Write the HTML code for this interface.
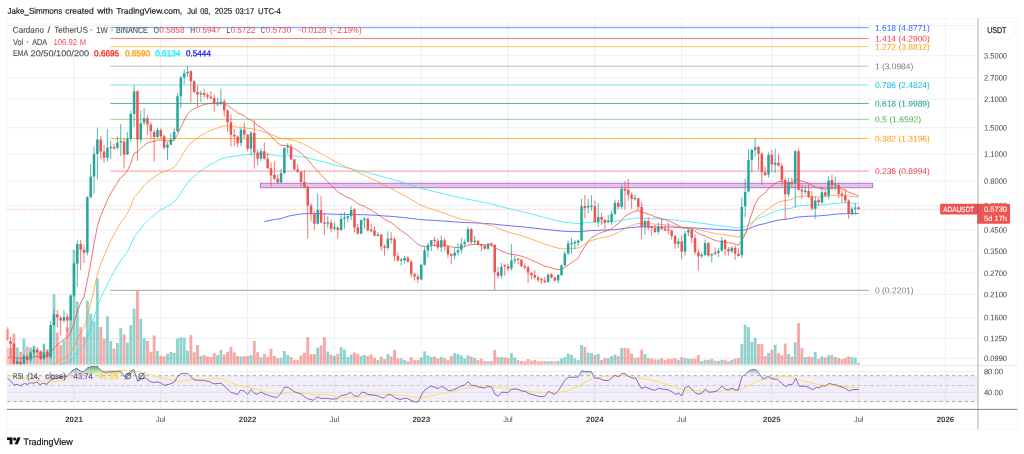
<!DOCTYPE html><html><head><meta charset="utf-8"><title>ADAUSDT</title><style>html,body{margin:0;padding:0;background:#fff}svg{display:block;will-change:transform}</style></head><body><svg width="1024" height="454" viewBox="0 0 1024 454" font-family="Liberation Sans, sans-serif" text-rendering="geometricPrecision">
<defs><clipPath id="cm"><rect x="6.4" y="18.3" width="971.6" height="346.4"/></clipPath>
<clipPath id="cr"><rect x="7" y="365.5" width="971" height="43.9"/></clipPath>
<linearGradient id="gg" x1="0" y1="364" x2="0" y2="376" gradientUnits="userSpaceOnUse"><stop offset="0" stop-color="#43a047" stop-opacity="1"/><stop offset="1" stop-color="#4caf50" stop-opacity="0"/></linearGradient>
</defs>
<rect width="1024" height="454" fill="#fff"/>
<g stroke="#e0ecf3" stroke-width="0.72" fill="none">
<path d="M74 18.3V409.4"/>
<path d="M160.81 18.3V409.4"/>
<path d="M247.63 18.3V409.4"/>
<path d="M334.44 18.3V409.4"/>
<path d="M421.26 18.3V409.4"/>
<path d="M508.07 18.3V409.4"/>
<path d="M594.88 18.3V409.4"/>
<path d="M681.7 18.3V409.4"/>
<path d="M771.85 18.3V409.4"/>
<path d="M858.66 18.3V409.4"/>
<path d="M945.48 18.3V409.4"/>
<path d="M7 25.55H978"/>
<path d="M7 55.81H978"/>
<path d="M7 77.82H978"/>
<path d="M7 99.14H978"/>
<path d="M7 127.69H978"/>
<path d="M7 154H978"/>
<path d="M7 181.02H978"/>
<path d="M7 205.43H978"/>
<path d="M7 229.84H978"/>
<path d="M7 251.16H978"/>
<path d="M7 273.17H978"/>
<path d="M7 294.5H978"/>
<path d="M7 317.57H978"/>
<path d="M7 338.51H978"/>
<path d="M7 358.29H978"/>
<path d="M7 371.6H978"/>
<path d="M7 392.4H978"/>
</g>
<rect x="7" y="375.7" width="971" height="25.8" fill="#7e57c2" fill-opacity="0.1"/>
<g stroke="#9c9ea5" stroke-width="0.85" stroke-dasharray="3.4 2.9" fill="none">
<path d="M7 375.7H978"/><path d="M7 401.5H978"/>
<path d="M7 385.5H978" stroke-opacity="0.55"/>
</g>
<g clip-path="url(#cm)">
<rect x="5.8" y="347.5" width="2.85" height="17.2" fill="#ef5350" fill-opacity="0.5"/>
<rect x="9.14" y="348" width="2.85" height="16.7" fill="#ef5350" fill-opacity="0.5"/>
<rect x="12.48" y="333.75" width="2.85" height="30.95" fill="#ef5350" fill-opacity="0.5"/>
<rect x="15.82" y="347.5" width="2.85" height="17.2" fill="#26a69a" fill-opacity="0.5"/>
<rect x="19.16" y="351.9" width="2.85" height="12.8" fill="#ef5350" fill-opacity="0.5"/>
<rect x="22.49" y="338.75" width="2.85" height="25.95" fill="#26a69a" fill-opacity="0.5"/>
<rect x="25.83" y="346.6" width="2.85" height="18.1" fill="#ef5350" fill-opacity="0.5"/>
<rect x="29.17" y="347.5" width="2.85" height="17.2" fill="#26a69a" fill-opacity="0.5"/>
<rect x="32.51" y="346.25" width="2.85" height="18.45" fill="#26a69a" fill-opacity="0.5"/>
<rect x="35.85" y="350.6" width="2.85" height="14.1" fill="#ef5350" fill-opacity="0.5"/>
<rect x="39.19" y="351.25" width="2.85" height="13.45" fill="#ef5350" fill-opacity="0.5"/>
<rect x="42.53" y="343.75" width="2.85" height="20.95" fill="#26a69a" fill-opacity="0.5"/>
<rect x="45.87" y="349.4" width="2.85" height="15.3" fill="#ef5350" fill-opacity="0.5"/>
<rect x="49.21" y="330" width="2.85" height="34.7" fill="#26a69a" fill-opacity="0.5"/>
<rect x="52.55" y="294.3" width="2.85" height="70.4" fill="#26a69a" fill-opacity="0.5"/>
<rect x="55.88" y="332.5" width="2.85" height="32.2" fill="#ef5350" fill-opacity="0.5"/>
<rect x="59.22" y="345" width="2.85" height="19.7" fill="#ef5350" fill-opacity="0.5"/>
<rect x="62.56" y="340.5" width="2.85" height="24.2" fill="#26a69a" fill-opacity="0.5"/>
<rect x="65.9" y="327.3" width="2.85" height="37.4" fill="#ef5350" fill-opacity="0.5"/>
<rect x="69.24" y="316" width="2.85" height="48.7" fill="#26a69a" fill-opacity="0.5"/>
<rect x="72.58" y="249.75" width="2.85" height="114.95" fill="#26a69a" fill-opacity="0.5"/>
<rect x="75.92" y="301.6" width="2.85" height="63.1" fill="#26a69a" fill-opacity="0.5"/>
<rect x="79.26" y="327" width="2.85" height="37.7" fill="#ef5350" fill-opacity="0.5"/>
<rect x="82.6" y="336.7" width="2.85" height="28" fill="#ef5350" fill-opacity="0.5"/>
<rect x="85.94" y="300.7" width="2.85" height="64" fill="#26a69a" fill-opacity="0.5"/>
<rect x="89.27" y="313.7" width="2.85" height="51" fill="#26a69a" fill-opacity="0.5"/>
<rect x="92.61" y="321.4" width="2.85" height="43.3" fill="#26a69a" fill-opacity="0.5"/>
<rect x="95.95" y="278.3" width="2.85" height="86.4" fill="#26a69a" fill-opacity="0.5"/>
<rect x="99.29" y="327" width="2.85" height="37.7" fill="#ef5350" fill-opacity="0.5"/>
<rect x="102.63" y="338.9" width="2.85" height="25.8" fill="#ef5350" fill-opacity="0.5"/>
<rect x="105.97" y="316.4" width="2.85" height="48.3" fill="#26a69a" fill-opacity="0.5"/>
<rect x="109.31" y="341" width="2.85" height="23.7" fill="#26a69a" fill-opacity="0.5"/>
<rect x="112.65" y="348.5" width="2.85" height="16.2" fill="#ef5350" fill-opacity="0.5"/>
<rect x="115.99" y="343" width="2.85" height="21.7" fill="#26a69a" fill-opacity="0.5"/>
<rect x="119.33" y="328.25" width="2.85" height="36.45" fill="#26a69a" fill-opacity="0.5"/>
<rect x="122.67" y="334.5" width="2.85" height="30.2" fill="#ef5350" fill-opacity="0.5"/>
<rect x="126" y="342.6" width="2.85" height="22.1" fill="#26a69a" fill-opacity="0.5"/>
<rect x="129.34" y="325.1" width="2.85" height="39.6" fill="#26a69a" fill-opacity="0.5"/>
<rect x="132.68" y="308.5" width="2.85" height="56.2" fill="#26a69a" fill-opacity="0.5"/>
<rect x="136.02" y="291" width="2.85" height="73.7" fill="#ef5350" fill-opacity="0.5"/>
<rect x="139.36" y="318.9" width="2.85" height="45.8" fill="#26a69a" fill-opacity="0.5"/>
<rect x="142.7" y="338.25" width="2.85" height="26.45" fill="#26a69a" fill-opacity="0.5"/>
<rect x="146.04" y="341" width="2.85" height="23.7" fill="#ef5350" fill-opacity="0.5"/>
<rect x="149.38" y="351.75" width="2.85" height="12.95" fill="#ef5350" fill-opacity="0.5"/>
<rect x="152.72" y="335.5" width="2.85" height="29.2" fill="#ef5350" fill-opacity="0.5"/>
<rect x="156.06" y="351" width="2.85" height="13.7" fill="#26a69a" fill-opacity="0.5"/>
<rect x="159.39" y="355.75" width="2.85" height="8.95" fill="#ef5350" fill-opacity="0.5"/>
<rect x="162.73" y="356.4" width="2.85" height="8.3" fill="#ef5350" fill-opacity="0.5"/>
<rect x="166.07" y="353.9" width="2.85" height="10.8" fill="#26a69a" fill-opacity="0.5"/>
<rect x="169.41" y="352" width="2.85" height="12.7" fill="#26a69a" fill-opacity="0.5"/>
<rect x="172.75" y="353" width="2.85" height="11.7" fill="#26a69a" fill-opacity="0.5"/>
<rect x="176.09" y="338.5" width="2.85" height="26.2" fill="#26a69a" fill-opacity="0.5"/>
<rect x="179.43" y="337.25" width="2.85" height="27.45" fill="#26a69a" fill-opacity="0.5"/>
<rect x="182.77" y="338" width="2.85" height="26.7" fill="#26a69a" fill-opacity="0.5"/>
<rect x="186.11" y="350.75" width="2.85" height="13.95" fill="#26a69a" fill-opacity="0.5"/>
<rect x="189.45" y="335.1" width="2.85" height="29.6" fill="#ef5350" fill-opacity="0.5"/>
<rect x="192.78" y="352.25" width="2.85" height="12.45" fill="#ef5350" fill-opacity="0.5"/>
<rect x="196.12" y="345.1" width="2.85" height="19.6" fill="#ef5350" fill-opacity="0.5"/>
<rect x="199.46" y="355.75" width="2.85" height="8.95" fill="#26a69a" fill-opacity="0.5"/>
<rect x="202.8" y="355.1" width="2.85" height="9.6" fill="#ef5350" fill-opacity="0.5"/>
<rect x="206.14" y="356.4" width="2.85" height="8.3" fill="#ef5350" fill-opacity="0.5"/>
<rect x="209.48" y="357" width="2.85" height="7.7" fill="#ef5350" fill-opacity="0.5"/>
<rect x="212.82" y="353" width="2.85" height="11.7" fill="#ef5350" fill-opacity="0.5"/>
<rect x="216.16" y="355.1" width="2.85" height="9.6" fill="#26a69a" fill-opacity="0.5"/>
<rect x="219.5" y="350.1" width="2.85" height="14.6" fill="#26a69a" fill-opacity="0.5"/>
<rect x="222.84" y="354.6" width="2.85" height="10.1" fill="#ef5350" fill-opacity="0.5"/>
<rect x="226.17" y="351.9" width="2.85" height="12.8" fill="#ef5350" fill-opacity="0.5"/>
<rect x="229.51" y="346.9" width="2.85" height="17.8" fill="#ef5350" fill-opacity="0.5"/>
<rect x="232.85" y="352.25" width="2.85" height="12.45" fill="#ef5350" fill-opacity="0.5"/>
<rect x="236.19" y="356" width="2.85" height="8.7" fill="#ef5350" fill-opacity="0.5"/>
<rect x="239.53" y="356.5" width="2.85" height="8.2" fill="#26a69a" fill-opacity="0.5"/>
<rect x="242.87" y="356.25" width="2.85" height="8.45" fill="#ef5350" fill-opacity="0.5"/>
<rect x="246.21" y="356" width="2.85" height="8.7" fill="#ef5350" fill-opacity="0.5"/>
<rect x="249.55" y="355" width="2.85" height="9.7" fill="#26a69a" fill-opacity="0.5"/>
<rect x="252.89" y="340.9" width="2.85" height="23.8" fill="#ef5350" fill-opacity="0.5"/>
<rect x="256.22" y="352.1" width="2.85" height="12.6" fill="#ef5350" fill-opacity="0.5"/>
<rect x="259.56" y="357.25" width="2.85" height="7.45" fill="#26a69a" fill-opacity="0.5"/>
<rect x="262.9" y="354" width="2.85" height="10.7" fill="#ef5350" fill-opacity="0.5"/>
<rect x="266.24" y="356.9" width="2.85" height="7.8" fill="#ef5350" fill-opacity="0.5"/>
<rect x="269.58" y="348.75" width="2.85" height="15.95" fill="#ef5350" fill-opacity="0.5"/>
<rect x="272.92" y="355.9" width="2.85" height="8.8" fill="#ef5350" fill-opacity="0.5"/>
<rect x="276.26" y="358.1" width="2.85" height="6.6" fill="#ef5350" fill-opacity="0.5"/>
<rect x="279.6" y="358.1" width="2.85" height="6.6" fill="#26a69a" fill-opacity="0.5"/>
<rect x="282.94" y="351" width="2.85" height="13.7" fill="#26a69a" fill-opacity="0.5"/>
<rect x="286.28" y="355" width="2.85" height="9.7" fill="#26a69a" fill-opacity="0.5"/>
<rect x="289.61" y="357.1" width="2.85" height="7.6" fill="#ef5350" fill-opacity="0.5"/>
<rect x="292.95" y="359.75" width="2.85" height="4.95" fill="#ef5350" fill-opacity="0.5"/>
<rect x="296.29" y="359.75" width="2.85" height="4.95" fill="#ef5350" fill-opacity="0.5"/>
<rect x="299.63" y="355.25" width="2.85" height="9.45" fill="#ef5350" fill-opacity="0.5"/>
<rect x="302.97" y="352.75" width="2.85" height="11.95" fill="#ef5350" fill-opacity="0.5"/>
<rect x="306.31" y="337.1" width="2.85" height="27.6" fill="#ef5350" fill-opacity="0.5"/>
<rect x="309.65" y="354" width="2.85" height="10.7" fill="#ef5350" fill-opacity="0.5"/>
<rect x="312.99" y="354.1" width="2.85" height="10.6" fill="#ef5350" fill-opacity="0.5"/>
<rect x="316.33" y="347.5" width="2.85" height="17.2" fill="#26a69a" fill-opacity="0.5"/>
<rect x="319.67" y="345.6" width="2.85" height="19.1" fill="#ef5350" fill-opacity="0.5"/>
<rect x="323" y="337.1" width="2.85" height="27.6" fill="#ef5350" fill-opacity="0.5"/>
<rect x="326.34" y="351.5" width="2.85" height="13.2" fill="#26a69a" fill-opacity="0.5"/>
<rect x="329.68" y="355" width="2.85" height="9.7" fill="#ef5350" fill-opacity="0.5"/>
<rect x="333.02" y="355.9" width="2.85" height="8.8" fill="#26a69a" fill-opacity="0.5"/>
<rect x="336.36" y="353.75" width="2.85" height="10.95" fill="#ef5350" fill-opacity="0.5"/>
<rect x="339.7" y="347.25" width="2.85" height="17.45" fill="#26a69a" fill-opacity="0.5"/>
<rect x="343.04" y="349.6" width="2.85" height="15.1" fill="#26a69a" fill-opacity="0.5"/>
<rect x="346.38" y="357.1" width="2.85" height="7.6" fill="#26a69a" fill-opacity="0.5"/>
<rect x="349.72" y="354.6" width="2.85" height="10.1" fill="#26a69a" fill-opacity="0.5"/>
<rect x="353.06" y="352.5" width="2.85" height="12.2" fill="#ef5350" fill-opacity="0.5"/>
<rect x="356.39" y="354" width="2.85" height="10.7" fill="#ef5350" fill-opacity="0.5"/>
<rect x="359.73" y="356" width="2.85" height="8.7" fill="#26a69a" fill-opacity="0.5"/>
<rect x="363.07" y="355" width="2.85" height="9.7" fill="#26a69a" fill-opacity="0.5"/>
<rect x="366.41" y="356" width="2.85" height="8.7" fill="#ef5350" fill-opacity="0.5"/>
<rect x="369.75" y="354.6" width="2.85" height="10.1" fill="#ef5350" fill-opacity="0.5"/>
<rect x="373.09" y="357.75" width="2.85" height="6.95" fill="#ef5350" fill-opacity="0.5"/>
<rect x="376.43" y="360" width="2.85" height="4.7" fill="#26a69a" fill-opacity="0.5"/>
<rect x="379.77" y="356.9" width="2.85" height="7.8" fill="#ef5350" fill-opacity="0.5"/>
<rect x="383.11" y="359" width="2.85" height="5.7" fill="#ef5350" fill-opacity="0.5"/>
<rect x="386.45" y="354.1" width="2.85" height="10.6" fill="#26a69a" fill-opacity="0.5"/>
<rect x="389.78" y="356.25" width="2.85" height="8.45" fill="#ef5350" fill-opacity="0.5"/>
<rect x="393.12" y="350" width="2.85" height="14.7" fill="#ef5350" fill-opacity="0.5"/>
<rect x="396.46" y="358.5" width="2.85" height="6.2" fill="#ef5350" fill-opacity="0.5"/>
<rect x="399.8" y="358.4" width="2.85" height="6.3" fill="#26a69a" fill-opacity="0.5"/>
<rect x="403.14" y="360" width="2.85" height="4.7" fill="#26a69a" fill-opacity="0.5"/>
<rect x="406.48" y="361.25" width="2.85" height="3.45" fill="#ef5350" fill-opacity="0.5"/>
<rect x="409.82" y="357.25" width="2.85" height="7.45" fill="#ef5350" fill-opacity="0.5"/>
<rect x="413.16" y="360" width="2.85" height="4.7" fill="#ef5350" fill-opacity="0.5"/>
<rect x="416.5" y="359.75" width="2.85" height="4.95" fill="#ef5350" fill-opacity="0.5"/>
<rect x="419.84" y="357.25" width="2.85" height="7.45" fill="#26a69a" fill-opacity="0.5"/>
<rect x="423.17" y="351.25" width="2.85" height="13.45" fill="#26a69a" fill-opacity="0.5"/>
<rect x="426.51" y="355.4" width="2.85" height="9.3" fill="#26a69a" fill-opacity="0.5"/>
<rect x="429.85" y="357.1" width="2.85" height="7.6" fill="#26a69a" fill-opacity="0.5"/>
<rect x="433.19" y="356.5" width="2.85" height="8.2" fill="#ef5350" fill-opacity="0.5"/>
<rect x="436.53" y="358.5" width="2.85" height="6.2" fill="#ef5350" fill-opacity="0.5"/>
<rect x="439.87" y="356.9" width="2.85" height="7.8" fill="#26a69a" fill-opacity="0.5"/>
<rect x="443.21" y="358.1" width="2.85" height="6.6" fill="#ef5350" fill-opacity="0.5"/>
<rect x="446.55" y="360" width="2.85" height="4.7" fill="#ef5350" fill-opacity="0.5"/>
<rect x="449.89" y="356" width="2.85" height="8.7" fill="#ef5350" fill-opacity="0.5"/>
<rect x="453.23" y="353.1" width="2.85" height="11.6" fill="#26a69a" fill-opacity="0.5"/>
<rect x="456.56" y="354.1" width="2.85" height="10.6" fill="#26a69a" fill-opacity="0.5"/>
<rect x="459.9" y="355.4" width="2.85" height="9.3" fill="#26a69a" fill-opacity="0.5"/>
<rect x="463.24" y="358.5" width="2.85" height="6.2" fill="#26a69a" fill-opacity="0.5"/>
<rect x="466.58" y="355.25" width="2.85" height="9.45" fill="#26a69a" fill-opacity="0.5"/>
<rect x="469.92" y="356.5" width="2.85" height="8.2" fill="#ef5350" fill-opacity="0.5"/>
<rect x="473.26" y="358.1" width="2.85" height="6.6" fill="#26a69a" fill-opacity="0.5"/>
<rect x="476.6" y="360" width="2.85" height="4.7" fill="#ef5350" fill-opacity="0.5"/>
<rect x="479.94" y="358.75" width="2.85" height="5.95" fill="#ef5350" fill-opacity="0.5"/>
<rect x="483.28" y="361" width="2.85" height="3.7" fill="#ef5350" fill-opacity="0.5"/>
<rect x="486.62" y="361.25" width="2.85" height="3.45" fill="#26a69a" fill-opacity="0.5"/>
<rect x="489.95" y="361" width="2.85" height="3.7" fill="#ef5350" fill-opacity="0.5"/>
<rect x="493.29" y="350" width="2.85" height="14.7" fill="#ef5350" fill-opacity="0.5"/>
<rect x="496.63" y="357.1" width="2.85" height="7.6" fill="#ef5350" fill-opacity="0.5"/>
<rect x="499.97" y="357.25" width="2.85" height="7.45" fill="#26a69a" fill-opacity="0.5"/>
<rect x="503.31" y="357.5" width="2.85" height="7.2" fill="#ef5350" fill-opacity="0.5"/>
<rect x="506.65" y="358.1" width="2.85" height="6.6" fill="#ef5350" fill-opacity="0.5"/>
<rect x="509.99" y="353.1" width="2.85" height="11.6" fill="#26a69a" fill-opacity="0.5"/>
<rect x="513.33" y="357.5" width="2.85" height="7.2" fill="#26a69a" fill-opacity="0.5"/>
<rect x="516.67" y="360.25" width="2.85" height="4.45" fill="#ef5350" fill-opacity="0.5"/>
<rect x="520.01" y="361" width="2.85" height="3.7" fill="#ef5350" fill-opacity="0.5"/>
<rect x="523.35" y="361.25" width="2.85" height="3.45" fill="#ef5350" fill-opacity="0.5"/>
<rect x="526.68" y="359" width="2.85" height="5.7" fill="#ef5350" fill-opacity="0.5"/>
<rect x="530.02" y="360.6" width="2.85" height="4.1" fill="#ef5350" fill-opacity="0.5"/>
<rect x="533.36" y="360" width="2.85" height="4.7" fill="#ef5350" fill-opacity="0.5"/>
<rect x="536.7" y="361.25" width="2.85" height="3.45" fill="#ef5350" fill-opacity="0.5"/>
<rect x="540.04" y="361.25" width="2.85" height="3.45" fill="#ef5350" fill-opacity="0.5"/>
<rect x="543.38" y="361.25" width="2.85" height="3.45" fill="#ef5350" fill-opacity="0.5"/>
<rect x="546.72" y="361.25" width="2.85" height="3.45" fill="#26a69a" fill-opacity="0.5"/>
<rect x="550.06" y="361" width="2.85" height="3.7" fill="#ef5350" fill-opacity="0.5"/>
<rect x="553.4" y="361.6" width="2.85" height="3.1" fill="#ef5350" fill-opacity="0.5"/>
<rect x="556.74" y="361" width="2.85" height="3.7" fill="#26a69a" fill-opacity="0.5"/>
<rect x="560.07" y="358.4" width="2.85" height="6.3" fill="#26a69a" fill-opacity="0.5"/>
<rect x="563.41" y="357.1" width="2.85" height="7.6" fill="#26a69a" fill-opacity="0.5"/>
<rect x="566.75" y="353.5" width="2.85" height="11.2" fill="#26a69a" fill-opacity="0.5"/>
<rect x="570.09" y="355" width="2.85" height="9.7" fill="#26a69a" fill-opacity="0.5"/>
<rect x="573.43" y="358.4" width="2.85" height="6.3" fill="#26a69a" fill-opacity="0.5"/>
<rect x="576.77" y="360.25" width="2.85" height="4.45" fill="#26a69a" fill-opacity="0.5"/>
<rect x="580.11" y="345" width="2.85" height="19.7" fill="#26a69a" fill-opacity="0.5"/>
<rect x="583.45" y="346.9" width="2.85" height="17.8" fill="#ef5350" fill-opacity="0.5"/>
<rect x="586.79" y="352.75" width="2.85" height="11.95" fill="#26a69a" fill-opacity="0.5"/>
<rect x="590.12" y="353.1" width="2.85" height="11.6" fill="#26a69a" fill-opacity="0.5"/>
<rect x="593.46" y="355" width="2.85" height="9.7" fill="#ef5350" fill-opacity="0.5"/>
<rect x="596.8" y="354" width="2.85" height="10.7" fill="#26a69a" fill-opacity="0.5"/>
<rect x="600.14" y="360" width="2.85" height="4.7" fill="#ef5350" fill-opacity="0.5"/>
<rect x="603.48" y="358.1" width="2.85" height="6.6" fill="#ef5350" fill-opacity="0.5"/>
<rect x="606.82" y="358.1" width="2.85" height="6.6" fill="#26a69a" fill-opacity="0.5"/>
<rect x="610.16" y="356" width="2.85" height="8.7" fill="#26a69a" fill-opacity="0.5"/>
<rect x="613.5" y="354.6" width="2.85" height="10.1" fill="#26a69a" fill-opacity="0.5"/>
<rect x="616.84" y="356.25" width="2.85" height="8.45" fill="#ef5350" fill-opacity="0.5"/>
<rect x="620.18" y="348.1" width="2.85" height="16.6" fill="#26a69a" fill-opacity="0.5"/>
<rect x="623.51" y="347.9" width="2.85" height="16.8" fill="#ef5350" fill-opacity="0.5"/>
<rect x="626.85" y="348.4" width="2.85" height="16.3" fill="#ef5350" fill-opacity="0.5"/>
<rect x="630.19" y="353.5" width="2.85" height="11.2" fill="#ef5350" fill-opacity="0.5"/>
<rect x="633.53" y="358.1" width="2.85" height="6.6" fill="#26a69a" fill-opacity="0.5"/>
<rect x="636.87" y="357.25" width="2.85" height="7.45" fill="#ef5350" fill-opacity="0.5"/>
<rect x="640.21" y="349.6" width="2.85" height="15.1" fill="#ef5350" fill-opacity="0.5"/>
<rect x="643.55" y="354.1" width="2.85" height="10.6" fill="#26a69a" fill-opacity="0.5"/>
<rect x="646.89" y="358.1" width="2.85" height="6.6" fill="#ef5350" fill-opacity="0.5"/>
<rect x="650.23" y="358.4" width="2.85" height="6.3" fill="#ef5350" fill-opacity="0.5"/>
<rect x="653.57" y="359.4" width="2.85" height="5.3" fill="#ef5350" fill-opacity="0.5"/>
<rect x="656.91" y="359.4" width="2.85" height="5.3" fill="#26a69a" fill-opacity="0.5"/>
<rect x="660.24" y="358.1" width="2.85" height="6.6" fill="#ef5350" fill-opacity="0.5"/>
<rect x="663.58" y="360" width="2.85" height="4.7" fill="#ef5350" fill-opacity="0.5"/>
<rect x="666.92" y="359" width="2.85" height="5.7" fill="#ef5350" fill-opacity="0.5"/>
<rect x="670.26" y="358.75" width="2.85" height="5.95" fill="#ef5350" fill-opacity="0.5"/>
<rect x="673.6" y="358.1" width="2.85" height="6.6" fill="#ef5350" fill-opacity="0.5"/>
<rect x="676.94" y="359.75" width="2.85" height="4.95" fill="#26a69a" fill-opacity="0.5"/>
<rect x="680.28" y="357.1" width="2.85" height="7.6" fill="#ef5350" fill-opacity="0.5"/>
<rect x="683.62" y="358.1" width="2.85" height="6.6" fill="#26a69a" fill-opacity="0.5"/>
<rect x="686.96" y="358.75" width="2.85" height="5.95" fill="#26a69a" fill-opacity="0.5"/>
<rect x="690.3" y="358.75" width="2.85" height="5.95" fill="#ef5350" fill-opacity="0.5"/>
<rect x="693.63" y="359" width="2.85" height="5.7" fill="#ef5350" fill-opacity="0.5"/>
<rect x="696.97" y="355" width="2.85" height="9.7" fill="#ef5350" fill-opacity="0.5"/>
<rect x="700.31" y="361" width="2.85" height="3.7" fill="#26a69a" fill-opacity="0.5"/>
<rect x="703.65" y="359.75" width="2.85" height="4.95" fill="#26a69a" fill-opacity="0.5"/>
<rect x="706.99" y="359.75" width="2.85" height="4.95" fill="#ef5350" fill-opacity="0.5"/>
<rect x="710.33" y="359" width="2.85" height="5.7" fill="#26a69a" fill-opacity="0.5"/>
<rect x="713.67" y="360.6" width="2.85" height="4.1" fill="#ef5350" fill-opacity="0.5"/>
<rect x="717.01" y="360.9" width="2.85" height="3.8" fill="#26a69a" fill-opacity="0.5"/>
<rect x="720.35" y="359.75" width="2.85" height="4.95" fill="#26a69a" fill-opacity="0.5"/>
<rect x="723.69" y="359.75" width="2.85" height="4.95" fill="#ef5350" fill-opacity="0.5"/>
<rect x="727.02" y="361.25" width="2.85" height="3.45" fill="#ef5350" fill-opacity="0.5"/>
<rect x="730.36" y="359.75" width="2.85" height="4.95" fill="#26a69a" fill-opacity="0.5"/>
<rect x="733.7" y="358.75" width="2.85" height="5.95" fill="#ef5350" fill-opacity="0.5"/>
<rect x="737.04" y="358.1" width="2.85" height="6.6" fill="#ef5350" fill-opacity="0.5"/>
<rect x="740.38" y="344" width="2.85" height="20.7" fill="#26a69a" fill-opacity="0.5"/>
<rect x="743.72" y="324.75" width="2.85" height="39.95" fill="#26a69a" fill-opacity="0.5"/>
<rect x="747.06" y="327.1" width="2.85" height="37.6" fill="#26a69a" fill-opacity="0.5"/>
<rect x="750.4" y="341.9" width="2.85" height="22.8" fill="#26a69a" fill-opacity="0.5"/>
<rect x="753.74" y="337.75" width="2.85" height="26.95" fill="#26a69a" fill-opacity="0.5"/>
<rect x="757.08" y="344" width="2.85" height="20.7" fill="#ef5350" fill-opacity="0.5"/>
<rect x="760.41" y="344" width="2.85" height="20.7" fill="#ef5350" fill-opacity="0.5"/>
<rect x="763.75" y="356" width="2.85" height="8.7" fill="#ef5350" fill-opacity="0.5"/>
<rect x="767.09" y="352.9" width="2.85" height="11.8" fill="#26a69a" fill-opacity="0.5"/>
<rect x="770.43" y="350" width="2.85" height="14.7" fill="#ef5350" fill-opacity="0.5"/>
<rect x="773.77" y="344.75" width="2.85" height="19.95" fill="#26a69a" fill-opacity="0.5"/>
<rect x="777.11" y="352.9" width="2.85" height="11.8" fill="#ef5350" fill-opacity="0.5"/>
<rect x="780.45" y="355" width="2.85" height="9.7" fill="#ef5350" fill-opacity="0.5"/>
<rect x="783.79" y="343.5" width="2.85" height="21.2" fill="#ef5350" fill-opacity="0.5"/>
<rect x="787.13" y="354" width="2.85" height="10.7" fill="#26a69a" fill-opacity="0.5"/>
<rect x="790.47" y="356.5" width="2.85" height="8.2" fill="#ef5350" fill-opacity="0.5"/>
<rect x="793.8" y="342.25" width="2.85" height="22.45" fill="#26a69a" fill-opacity="0.5"/>
<rect x="797.14" y="323.1" width="2.85" height="41.6" fill="#ef5350" fill-opacity="0.5"/>
<rect x="800.48" y="348.1" width="2.85" height="16.6" fill="#ef5350" fill-opacity="0.5"/>
<rect x="803.82" y="357.1" width="2.85" height="7.6" fill="#26a69a" fill-opacity="0.5"/>
<rect x="807.16" y="356.5" width="2.85" height="8.2" fill="#ef5350" fill-opacity="0.5"/>
<rect x="810.5" y="357.1" width="2.85" height="7.6" fill="#ef5350" fill-opacity="0.5"/>
<rect x="813.84" y="351.9" width="2.85" height="12.8" fill="#26a69a" fill-opacity="0.5"/>
<rect x="817.18" y="359" width="2.85" height="5.7" fill="#ef5350" fill-opacity="0.5"/>
<rect x="820.52" y="356.5" width="2.85" height="8.2" fill="#26a69a" fill-opacity="0.5"/>
<rect x="823.86" y="357.5" width="2.85" height="7.2" fill="#ef5350" fill-opacity="0.5"/>
<rect x="827.19" y="355.25" width="2.85" height="9.45" fill="#26a69a" fill-opacity="0.5"/>
<rect x="830.53" y="355" width="2.85" height="9.7" fill="#ef5350" fill-opacity="0.5"/>
<rect x="833.87" y="356.9" width="2.85" height="7.8" fill="#26a69a" fill-opacity="0.5"/>
<rect x="837.21" y="357.9" width="2.85" height="6.8" fill="#ef5350" fill-opacity="0.5"/>
<rect x="840.55" y="359.1" width="2.85" height="5.6" fill="#ef5350" fill-opacity="0.5"/>
<rect x="843.89" y="357.9" width="2.85" height="6.8" fill="#ef5350" fill-opacity="0.5"/>
<rect x="847.23" y="356.5" width="2.85" height="8.2" fill="#ef5350" fill-opacity="0.5"/>
<rect x="850.57" y="357.25" width="2.85" height="7.45" fill="#26a69a" fill-opacity="0.5"/>
<rect x="853.91" y="357.9" width="2.85" height="6.8" fill="#26a69a" fill-opacity="0.5"/>
<rect x="857.25" y="362.9" width="2.85" height="1.8" fill="#ef5350" fill-opacity="0.5"/>
</g>
<path d="M110.3 27.66H868.8" stroke="#2962ff" stroke-width="0.9" stroke-opacity="0.75"/>
<text x="874.9" y="30.66" transform="rotate(0.03 874.9 30.66)" font-size="8.3" fill="#2962ff" textLength="55" lengthAdjust="spacingAndGlyphs">1.618 (4.8771)</text>
<path d="M110.3 38.54H868.8" stroke="#f23645" stroke-width="0.9" stroke-opacity="0.75"/>
<text x="874.9" y="41.54" transform="rotate(0.03 874.9 41.54)" font-size="8.3" fill="#f23645" textLength="55" lengthAdjust="spacingAndGlyphs">1.414 (4.2900)</text>
<path d="M110.3 46.65H868.8" stroke="#ff9800" stroke-width="0.9" stroke-opacity="0.62"/>
<text x="874.9" y="49.65" transform="rotate(0.03 874.9 49.65)" font-size="8.3" fill="#ff9800" textLength="55" lengthAdjust="spacingAndGlyphs">1.272 (3.8812)</text>
<path d="M110.3 66.2H868.8" stroke="#787b86" stroke-width="0.9" stroke-opacity="0.55"/>
<text x="874.9" y="69.2" transform="rotate(0.03 874.9 69.2)" font-size="8.3" fill="#787b86" textLength="38.4" lengthAdjust="spacingAndGlyphs">1 (3.0984)</text>
<path d="M110.3 84.95H868.8" stroke="#00bcd4" stroke-width="0.9" stroke-opacity="0.55"/>
<text x="874.9" y="87.95" transform="rotate(0.03 874.9 87.95)" font-size="8.3" fill="#00bcd4" textLength="55" lengthAdjust="spacingAndGlyphs">0.786 (2.4824)</text>
<path d="M110.3 103.45H868.8" stroke="#089981" stroke-width="0.9" stroke-opacity="0.8"/>
<text x="874.9" y="106.45" transform="rotate(0.03 874.9 106.45)" font-size="8.3" fill="#089981" textLength="55" lengthAdjust="spacingAndGlyphs">0.618 (1.9989)</text>
<path d="M110.3 119.35H868.8" stroke="#4caf50" stroke-width="0.9" stroke-opacity="0.62"/>
<text x="874.9" y="122.35" transform="rotate(0.03 874.9 122.35)" font-size="8.3" fill="#4caf50" textLength="46.2" lengthAdjust="spacingAndGlyphs">0.5 (1.6592)</text>
<path d="M110.3 138.56H868.8" stroke="#ff9800" stroke-width="0.9" stroke-opacity="0.8"/>
<text x="874.9" y="141.56" transform="rotate(0.03 874.9 141.56)" font-size="8.3" fill="#ff9800" textLength="55" lengthAdjust="spacingAndGlyphs">0.382 (1.3196)</text>
<path d="M110.3 171.09H868.8" stroke="#f23645" stroke-width="0.9" stroke-opacity="0.6"/>
<text x="874.9" y="174.09" transform="rotate(0.03 874.9 174.09)" font-size="8.3" fill="#f23645" textLength="55" lengthAdjust="spacingAndGlyphs">0.236 (0.8994)</text>
<path d="M110.3 290.3H868.8" stroke="#787b86" stroke-width="0.9" stroke-opacity="0.8"/>
<text x="874.9" y="293.3" transform="rotate(0.03 874.9 293.3)" font-size="8.3" fill="#787b86" textLength="38.8" lengthAdjust="spacingAndGlyphs">0 (0.2201)</text>
<rect x="260.3" y="183.2" width="612.4" height="4.6" fill="#9c27b0" fill-opacity="0.27" stroke="#ab47bc" stroke-width="0.7"/>
<path d="M7 209.3H940" stroke="#ef5350" stroke-width="0.7" stroke-dasharray="1 1.4" stroke-opacity="0.68"/>
<g clip-path="url(#cm)" fill="none" stroke-width="0.75" stroke-linejoin="round">
<path d="M264.32 221.49L267.66 220.76L271 220.16L274.34 219.64L277.68 219.17L281.02 218.57L284.36 217.48L287.7 216.38L291.03 215.58L294.37 214.97L297.71 214.41L301.05 214.02L304.39 213.71L307.73 213.62L311.07 213.63L314.41 213.72L317.75 213.68L321.09 213.77L324.43 213.86L327.76 213.94L331.1 214.07L334.44 214.2L337.78 214.34L341.12 214.39L344.46 214.42L347.8 214.43L351.14 214.39L354.48 214.51L357.81 214.68L361.15 214.73L364.49 214.77L367.83 214.92L371.17 215.06L374.51 215.24L377.85 215.41L381.19 215.68L384.53 215.94L387.87 216.14L391.2 216.35L394.54 216.66L397.88 217L401.22 217.34L404.56 217.66L407.9 218L411.24 218.41L414.58 218.83L417.92 219.26L421.26 219.62L424.59 219.87L427.93 220.09L431.27 220.27L434.61 220.46L437.95 220.69L441.29 220.86L444.63 221.08L447.97 221.35L451.31 221.64L454.65 221.89L457.99 222.13L461.32 222.33L464.66 222.51L468 222.57L471.34 222.74L474.68 222.91L478.02 223.1L481.36 223.29L484.7 223.51L488.04 223.69L491.38 223.88L494.71 224.24L498.05 224.63L501.39 224.96L504.73 225.29L508.07 225.63L511.41 225.91L514.75 226.19L518.09 226.46L521.43 226.78L524.76 227.1L528.1 227.45L531.44 227.82L534.78 228.19L538.12 228.58L541.46 228.96L544.8 229.36L548.14 229.71L551.48 230.07L554.82 230.45L558.15 230.8L561.49 231.08L564.83 231.28L568.17 231.39L571.51 231.5L574.85 231.6L578.19 231.68L581.53 231.39L584.87 231.12L588.21 230.84L591.54 230.55L594.88 230.46L598.22 230.31L601.56 230.2L604.9 230.12L608.24 230.02L611.58 229.85L614.92 229.53L618.26 229.27L621.6 228.76L624.93 228.28L628.27 227.87L631.61 227.53L634.95 227.18L638.29 226.95L641.63 226.95L644.97 226.89L648.31 226.89L651.65 226.9L654.99 226.95L658.33 226.95L661.66 226.97L665 227L668.34 227.03L671.68 227.12L675.02 227.27L678.36 227.4L681.7 227.61L685.04 227.67L688.38 227.69L691.72 227.79L695.05 228L698.39 228.24L701.73 228.47L705.07 228.6L708.41 228.83L711.75 229.05L715.09 229.26L718.43 229.46L721.77 229.56L725.11 229.73L728.44 229.92L731.78 230.08L735.12 230.29L738.46 230.51L741.8 230.24L745.14 229.76L748.48 228.69L751.82 227.41L755.16 226.09L758.5 224.96L761.83 224.24L765.17 223.58L768.51 222.53L771.85 221.7L775.19 220.86L778.53 220.09L781.87 219.58L785.21 219.29L788.55 218.84L791.88 218.41L795.22 217.4L798.56 217.07L801.9 216.77L805.24 216.47L808.58 216.25L811.92 216.18L815.26 216.01L818.6 215.86L821.94 215.59L825.27 215.37L828.61 214.94L831.95 214.59L835.29 214.23L838.63 214L841.97 213.8L845.31 213.66L848.65 213.66L851.99 213.61L855.33 213.54L858.66 213.5" stroke="#3d3dff"/>
<path d="M7.22 373.95L10.56 373.24L13.9 373.04L17.24 372.79L20.58 372.62L23.91 372.25L27.25 371.99L30.59 371.56L33.93 371.06L37.27 370.64L40.61 370.39L43.95 369.99L47.29 369.71L50.63 368.56L53.97 367.07L57.3 365.75L60.64 364.57L63.98 363.32L67.32 362.22L70.66 360.24L74 356.74L77.34 352.2L80.68 348.35L84.02 344.92L87.36 337.37L90.69 328.35L94.03 317.62L97.37 306.37L100.71 298.05L104.05 291.23L107.39 284.1L110.73 277.58L114.07 271.77L117.41 265.97L120.75 260.5L124.09 256.43L127.42 251.51L130.76 244.94L134.1 236.77L137.44 233.23L140.78 228.89L144.12 224.49L147.46 220.79L150.8 217.71L154.14 215.08L157.47 212.24L160.81 209.84L164.15 208.05L167.49 206.2L170.83 204.22L174.17 201.99L177.51 197.93L180.85 192.82L184.19 187.76L187.53 183L190.87 179.19L194.2 176.22L197.54 173.54L200.88 170.93L204.22 168.53L207.56 166.34L210.9 164.29L214.24 162.56L217.58 160.85L220.92 159.18L224.25 157.89L227.59 157.01L230.93 156.51L234.27 156.07L237.61 155.8L240.95 155.2L244.29 154.74L247.63 154.62L250.97 154.13L254.31 154.09L257.64 154.18L260.98 154.13L264.32 154.21L267.66 154.47L271 154.84L274.34 155.25L277.68 155.72L281.02 156.03L284.36 155.86L287.7 155.67L291.03 155.74L294.37 155.99L297.71 156.28L301.05 156.71L304.39 157.23L307.73 157.96L311.07 158.77L314.41 159.68L317.75 160.43L321.09 161.31L324.43 162.19L327.76 163.05L331.1 163.96L334.44 164.85L337.78 165.75L341.12 166.54L344.46 167.3L347.8 168.04L351.14 168.7L354.48 169.54L357.81 170.44L361.15 171.18L364.49 171.91L367.83 172.75L371.17 173.59L374.51 174.46L377.85 175.32L381.19 176.28L384.53 177.25L387.87 178.12L391.2 178.99L394.54 180L397.88 181.03L401.22 182.05L404.56 183.05L407.9 184.07L411.24 185.18L414.58 186.3L417.92 187.42L421.26 188.44L424.59 189.31L427.93 190.13L431.27 190.88L434.61 191.63L437.95 192.45L441.29 193.17L444.63 193.96L447.97 194.82L451.31 195.68L454.65 196.51L457.99 197.3L461.32 198.02L464.66 198.7L468 199.21L471.34 199.88L474.68 200.53L478.02 201.21L481.36 201.9L484.7 202.62L488.04 203.26L491.38 203.91L494.71 204.85L498.05 205.81L501.39 206.67L504.73 207.52L508.07 208.39L511.41 209.17L514.75 209.92L518.09 210.67L521.43 211.48L524.76 212.3L528.1 213.16L531.44 214.03L534.78 214.92L538.12 215.82L541.46 216.72L544.8 217.63L548.14 218.46L551.48 219.3L554.82 220.17L558.15 220.98L561.49 221.66L564.83 222.19L568.17 222.57L571.51 222.93L574.85 223.27L578.19 223.58L581.53 223.2L584.87 222.87L588.21 222.51L591.54 222.15L594.88 222.14L598.22 222.04L601.56 221.99L604.9 222L608.24 221.97L611.58 221.81L614.92 221.39L618.26 221.08L621.6 220.3L624.93 219.6L628.27 219.03L631.61 218.58L634.95 218.12L638.29 217.88L641.63 218.05L644.97 218.11L648.31 218.28L651.65 218.46L654.99 218.71L658.33 218.86L661.66 219.05L665 219.26L668.34 219.47L671.68 219.77L675.02 220.18L678.36 220.56L681.7 221.07L685.04 221.3L688.38 221.47L691.72 221.77L695.05 222.28L698.39 222.83L701.73 223.37L705.07 223.71L708.41 224.24L711.75 224.75L715.09 225.23L718.43 225.67L721.77 225.94L725.11 226.34L728.44 226.78L731.78 227.15L735.12 227.6L738.46 228.08L741.8 227.6L745.14 226.73L748.48 224.74L751.82 222.4L755.16 220.04L758.5 218.07L761.83 216.88L765.17 215.81L768.51 214.06L771.85 212.74L775.19 211.4L778.53 210.2L781.87 209.5L785.21 209.17L788.55 208.55L791.88 207.99L795.22 206.41L798.56 206.04L801.9 205.73L805.24 205.41L808.58 205.23L811.92 205.3L815.26 205.2L818.6 205.15L821.94 204.87L825.27 204.68L828.61 204.13L831.95 203.72L835.29 203.29L838.63 203.09L841.97 202.94L845.31 202.89L848.65 203.09L851.99 203.2L855.33 203.29L858.66 203.4" stroke="#27e6f5"/>
<path d="M7.22 379.75L10.56 378.02L13.9 377.42L17.24 376.71L20.58 376.2L23.91 375.31L27.25 374.66L30.59 373.67L33.93 372.58L37.27 371.67L40.61 371.12L43.95 370.31L47.29 369.74L50.63 367.46L53.97 364.62L57.3 362.18L60.64 360.11L63.98 357.92L67.32 356.11L70.66 352.71L74 346.74L77.34 339.24L80.68 333.23L84.02 328.12L87.36 316.7L90.69 303.7L94.03 288.96L97.37 274.27L100.71 264.09L104.05 256.15L107.39 247.95L110.73 240.66L114.07 234.37L117.41 228.13L120.75 222.37L124.09 218.39L127.42 213.34L130.76 206.23L134.1 197.18L137.44 194L140.78 189.78L144.12 185.48L147.46 182.05L150.8 179.38L154.14 177.25L157.47 174.81L160.81 172.93L164.15 171.79L167.49 170.54L170.83 169.08L174.17 167.28L177.51 163.03L180.85 157.43L184.19 151.95L187.53 146.88L190.87 143.08L194.2 140.37L197.54 138.01L200.88 135.73L204.22 133.71L207.56 131.92L210.9 130.3L214.24 129.1L217.58 127.89L220.92 126.7L224.25 126L227.59 125.85L230.93 126.18L234.27 126.57L237.61 127.17L240.95 127.27L244.29 127.55L247.63 128.29L250.97 128.46L254.31 129.29L257.64 130.27L260.98 131L264.32 131.94L267.66 133.1L271 134.42L274.34 135.78L277.68 137.2L281.02 138.36L284.36 138.72L287.7 139.01L291.03 139.72L294.37 140.71L297.71 141.74L301.05 143.01L304.39 144.37L307.73 146.1L311.07 147.95L314.41 149.94L317.75 151.64L321.09 153.55L324.43 155.44L327.76 157.28L331.1 159.19L334.44 161.05L337.78 162.92L341.12 164.54L344.46 166.1L347.8 167.6L351.14 168.92L354.48 170.6L357.81 172.36L361.15 173.8L364.49 175.19L367.83 176.79L371.17 178.38L374.51 180.02L377.85 181.62L381.19 183.42L384.53 185.21L387.87 186.78L391.2 188.33L394.54 190.18L397.88 192.08L401.22 193.93L404.56 195.71L407.9 197.53L411.24 199.53L414.58 201.54L417.92 203.56L421.26 205.29L424.59 206.68L427.93 207.9L431.27 208.97L434.61 210.02L437.95 211.21L441.29 212.18L444.63 213.3L447.97 214.58L451.31 215.87L454.65 217.05L457.99 218.13L461.32 219.02L464.66 219.82L468 220.17L471.34 220.93L474.68 221.63L478.02 222.43L481.36 223.22L484.7 224.09L488.04 224.78L491.38 225.48L494.71 226.9L498.05 228.37L501.39 229.6L504.73 230.77L508.07 231.98L511.41 232.94L514.75 233.84L518.09 234.71L521.43 235.75L524.76 236.79L528.1 237.95L531.44 239.14L534.78 240.36L538.12 241.6L541.46 242.83L544.8 244.07L548.14 245.09L551.48 246.15L554.82 247.27L558.15 248.2L561.49 248.81L564.83 248.99L568.17 248.77L571.51 248.54L574.85 248.28L578.19 247.97L581.53 245.88L584.87 244.03L588.21 242.2L591.54 240.43L594.88 239.62L598.22 238.61L601.56 237.78L604.9 237.13L608.24 236.42L611.58 235.42L614.92 233.88L618.26 232.64L621.6 230.42L624.93 228.45L628.27 226.84L631.61 225.54L634.95 224.28L638.29 223.52L641.63 223.65L644.97 223.55L648.31 223.7L651.65 223.85L654.99 224.16L658.33 224.26L661.66 224.44L665 224.66L668.34 224.88L671.68 225.29L675.02 225.95L678.36 226.51L681.7 227.36L685.04 227.59L688.38 227.69L691.72 228.08L695.05 228.91L698.39 229.83L701.73 230.69L705.07 231.14L708.41 231.98L711.75 232.76L715.09 233.48L718.43 234.11L721.77 234.35L725.11 234.88L728.44 235.47L731.78 235.92L735.12 236.56L738.46 237.24L741.8 235.82L745.14 233.6L748.48 229.12L751.82 224.14L755.16 219.37L758.5 215.57L761.83 213.39L765.17 211.5L768.51 208.39L771.85 206.16L775.19 203.97L778.53 202.09L781.87 201.12L785.21 200.84L788.55 200.04L791.88 199.35L795.22 196.85L798.56 196.56L801.9 196.36L805.24 196.13L808.58 196.16L811.92 196.62L815.26 196.78L818.6 196.99L821.94 196.8L825.27 196.76L828.61 196.06L831.95 195.62L835.29 195.16L838.63 195.1L841.97 195.12L845.31 195.33L848.65 195.98L851.99 196.45L855.33 196.86L858.66 197.31" stroke="#ff9a2e"/>
<path d="M7.22 358.29L10.56 356.8L13.9 357.46L17.24 357.79L20.58 358.41L23.91 358.18L27.25 358.35L30.59 357.78L33.93 356.94L37.27 356.46L40.61 356.68L43.95 356.27L47.29 356.33L50.63 352.8L53.97 348.29L57.3 344.83L60.64 342.2L63.98 339.44L67.32 337.45L70.66 332.44L74 322.89L77.34 311.32L80.68 303.11L84.02 296.8L87.36 280.44L90.69 262.95L94.03 244.1L97.37 226.43L100.71 215.68L104.05 208.11L107.39 200.12L110.73 193.37L114.07 187.91L117.41 182.42L120.75 177.48L124.09 175.01L127.42 170.78L130.76 163.39L134.1 153.23L137.44 151.82L140.78 148.64L144.12 145.23L147.46 143.03L150.8 141.85L154.14 141.37L157.47 140.23L160.81 139.86L164.15 140.58L167.49 140.96L170.83 140.82L174.17 139.94L177.51 134.66L180.85 127.23L184.19 120.3L187.53 114.31L190.87 110.54L194.2 108.58L197.54 107.12L200.88 105.7L204.22 104.62L207.56 103.86L210.9 103.29L214.24 103.36L217.58 103.28L220.92 103.14L224.25 103.81L227.59 105.4L230.93 107.8L234.27 110.16L237.61 112.82L240.95 114.3L244.29 116.05L247.63 118.66L250.97 119.92L254.31 122.54L257.64 125.39L260.98 127.54L264.32 130.07L267.66 133.04L271 136.28L274.34 139.53L277.68 142.8L281.02 145.26L284.36 145.53L287.7 145.61L291.03 146.83L294.37 148.74L297.71 150.69L301.05 153.22L304.39 155.95L307.73 159.6L311.07 163.5L314.41 167.72L317.75 170.95L321.09 174.71L324.43 178.32L327.76 181.66L331.1 185.18L334.44 188.42L337.78 191.61L341.12 193.85L344.46 195.84L347.8 197.59L351.14 198.7L354.48 201.05L357.81 203.68L361.15 205.1L364.49 206.32L367.83 208.35L371.17 210.25L374.51 212.36L377.85 214.25L381.19 216.86L384.53 219.38L387.87 221.03L391.2 222.63L394.54 225.3L397.88 228.09L401.22 230.65L404.56 232.91L407.9 235.27L411.24 238.3L414.58 241.28L417.92 244.26L421.26 246.02L424.59 246.44L427.93 246.33L431.27 245.73L434.61 245.27L437.95 245.47L441.29 244.96L444.63 245.1L447.97 245.93L451.31 246.82L454.65 247.37L457.99 247.64L461.32 247.31L464.66 246.81L468 244.97L471.34 244.68L474.68 244.32L478.02 244.36L481.36 244.47L484.7 244.87L488.04 244.76L491.38 244.74L494.71 247L498.05 249.38L501.39 250.9L504.73 252.23L508.07 253.68L511.41 254.31L514.75 254.8L518.09 255.25L521.43 256.23L524.76 257.24L528.1 258.58L531.44 260.03L534.78 261.55L538.12 263.12L541.46 264.61L544.8 266.14L548.14 266.92L551.48 267.88L554.82 269.01L558.15 269.56L561.49 269.16L564.83 267.53L568.17 264.93L571.51 262.58L574.85 260.42L578.19 258.32L581.53 251.74L584.87 246.47L588.21 241.73L591.54 237.57L594.88 235.95L598.22 233.94L601.56 232.48L604.9 231.48L608.24 230.38L611.58 228.68L614.92 225.85L618.26 223.86L621.6 219.81L624.93 216.55L628.27 214.22L631.61 212.62L634.95 211.11L638.29 210.7L641.63 212.12L644.97 212.92L648.31 214.21L651.65 215.41L654.99 216.85L658.33 217.76L661.66 218.75L665 219.79L668.34 220.76L671.68 222.09L675.02 223.93L678.36 225.46L681.7 227.62L685.04 228.16L688.38 228.36L691.72 229.24L695.05 231.18L698.39 233.28L701.73 235.13L705.07 235.86L708.41 237.55L711.75 239.01L715.09 240.3L718.43 241.26L721.77 241.2L725.11 241.91L728.44 242.78L731.78 243.24L735.12 244.19L738.46 245.24L741.8 240.75L745.14 234.68L748.48 223.98L751.82 213.42L755.16 204.37L758.5 198.02L761.83 195.2L765.17 193.06L768.51 188.57L771.85 185.95L775.19 183.44L778.53 181.57L781.87 181.45L785.21 182.6L788.55 182.59L791.88 182.72L795.22 179.17L798.56 180.12L801.9 181.14L805.24 182.02L808.58 183.33L811.92 185.45L815.26 186.78L818.6 188.16L821.94 188.54L825.27 189.19L828.61 188.33L831.95 188.07L835.29 187.72L838.63 188.28L841.97 188.95L845.31 189.99L848.65 191.99L851.99 193.45L855.33 194.69L858.66 195.98" stroke="#f44336"/>
</g>
<g clip-path="url(#cm)">
<path d="M7.22 327V341" stroke="#ef5350" stroke-width="0.8"/>
<rect x="5.97" y="328.8" width="2.5" height="11.2" fill="#ef5350"/>
<path d="M10.56 337V355.6" stroke="#ef5350" stroke-width="0.8"/>
<rect x="9.31" y="341" width="2.5" height="2.8" fill="#ef5350"/>
<path d="M13.9 343V364.6" stroke="#ef5350" stroke-width="0.8"/>
<rect x="12.65" y="343.8" width="2.5" height="20.2" fill="#ef5350"/>
<path d="M17.24 358V364.6" stroke="#26a69a" stroke-width="0.8"/>
<rect x="15.99" y="361" width="2.5" height="2.8" fill="#26a69a"/>
<path d="M20.58 359V364.6" stroke="#ef5350" stroke-width="0.8"/>
<rect x="19.33" y="361.9" width="2.5" height="2.7" fill="#ef5350"/>
<path d="M23.91 354V364.6" stroke="#26a69a" stroke-width="0.8"/>
<rect x="22.66" y="356" width="2.5" height="8" fill="#26a69a"/>
<path d="M27.25 355V363" stroke="#ef5350" stroke-width="0.8"/>
<rect x="26" y="356.3" width="2.5" height="3.7" fill="#ef5350"/>
<path d="M30.59 351V361" stroke="#26a69a" stroke-width="0.8"/>
<rect x="29.34" y="352.5" width="2.5" height="6.9" fill="#26a69a"/>
<path d="M33.93 345.6V355.6" stroke="#26a69a" stroke-width="0.8"/>
<rect x="32.68" y="349.4" width="2.5" height="3.1" fill="#26a69a"/>
<path d="M37.27 346.9V354" stroke="#ef5350" stroke-width="0.8"/>
<rect x="36.02" y="349.4" width="2.5" height="2.6" fill="#ef5350"/>
<path d="M40.61 350V360" stroke="#ef5350" stroke-width="0.8"/>
<rect x="39.36" y="351.9" width="2.5" height="6.9" fill="#ef5350"/>
<path d="M43.95 345V360" stroke="#26a69a" stroke-width="0.8"/>
<rect x="42.7" y="352.5" width="2.5" height="6.3" fill="#26a69a"/>
<path d="M47.29 350V358" stroke="#ef5350" stroke-width="0.8"/>
<rect x="46.04" y="351.9" width="2.5" height="5" fill="#ef5350"/>
<path d="M50.63 321V358" stroke="#26a69a" stroke-width="0.8"/>
<rect x="49.38" y="325" width="2.5" height="31.9" fill="#26a69a"/>
<path d="M53.97 309V326" stroke="#26a69a" stroke-width="0.8"/>
<rect x="52.72" y="314.4" width="2.5" height="10.6" fill="#26a69a"/>
<path d="M57.3 310V327.5" stroke="#ef5350" stroke-width="0.8"/>
<rect x="56.05" y="314.4" width="2.5" height="3.1" fill="#ef5350"/>
<path d="M60.64 316V335.6" stroke="#ef5350" stroke-width="0.8"/>
<rect x="59.39" y="318" width="2.5" height="2.6" fill="#ef5350"/>
<path d="M63.98 310V323" stroke="#26a69a" stroke-width="0.8"/>
<rect x="62.73" y="316.9" width="2.5" height="3.7" fill="#26a69a"/>
<path d="M67.32 313.8V332.5" stroke="#ef5350" stroke-width="0.8"/>
<rect x="66.07" y="316.9" width="2.5" height="3.7" fill="#ef5350"/>
<path d="M70.66 294V321" stroke="#26a69a" stroke-width="0.8"/>
<rect x="69.41" y="295.5" width="2.5" height="24.5" fill="#26a69a"/>
<path d="M74 262V297" stroke="#26a69a" stroke-width="0.8"/>
<rect x="72.75" y="263.6" width="2.5" height="31.9" fill="#26a69a"/>
<path d="M77.34 239.75V286.75" stroke="#26a69a" stroke-width="0.8"/>
<rect x="76.09" y="244" width="2.5" height="19.6" fill="#26a69a"/>
<path d="M80.68 239.75V270" stroke="#ef5350" stroke-width="0.8"/>
<rect x="79.43" y="244" width="2.5" height="5.75" fill="#ef5350"/>
<path d="M84.02 244.75V263" stroke="#ef5350" stroke-width="0.8"/>
<rect x="82.77" y="249.75" width="2.5" height="3" fill="#ef5350"/>
<path d="M87.36 196V255.5" stroke="#26a69a" stroke-width="0.8"/>
<rect x="86.11" y="197.25" width="2.5" height="55.25" fill="#26a69a"/>
<path d="M90.69 164V198" stroke="#26a69a" stroke-width="0.8"/>
<rect x="89.44" y="176.5" width="2.5" height="20.8" fill="#26a69a"/>
<path d="M94.03 146.5V193.4" stroke="#26a69a" stroke-width="0.8"/>
<rect x="92.78" y="154" width="2.5" height="22.5" fill="#26a69a"/>
<path d="M97.37 127.6V179.6" stroke="#26a69a" stroke-width="0.8"/>
<rect x="96.12" y="139.5" width="2.5" height="14.5" fill="#26a69a"/>
<path d="M100.71 135.75V159" stroke="#ef5350" stroke-width="0.8"/>
<rect x="99.46" y="139.5" width="2.5" height="12" fill="#ef5350"/>
<path d="M104.05 145V162.75" stroke="#ef5350" stroke-width="0.8"/>
<rect x="102.8" y="151.5" width="2.5" height="6.25" fill="#ef5350"/>
<path d="M107.39 128.9V161.5" stroke="#26a69a" stroke-width="0.8"/>
<rect x="106.14" y="147.75" width="2.5" height="10" fill="#26a69a"/>
<path d="M110.73 140.9V159" stroke="#26a69a" stroke-width="0.8"/>
<rect x="109.48" y="146.8" width="2.5" height="1.4" fill="#26a69a"/>
<path d="M114.07 143.4V149.6" stroke="#ef5350" stroke-width="0.8"/>
<rect x="112.82" y="147" width="2.5" height="1.5" fill="#ef5350"/>
<path d="M117.41 136.4V149.6" stroke="#26a69a" stroke-width="0.8"/>
<rect x="116.16" y="142.75" width="2.5" height="5" fill="#26a69a"/>
<path d="M120.75 123.9V155.9" stroke="#26a69a" stroke-width="0.8"/>
<rect x="119.5" y="141" width="2.5" height="1.5" fill="#26a69a"/>
<path d="M124.09 138V168.4" stroke="#ef5350" stroke-width="0.8"/>
<rect x="122.84" y="141.5" width="2.5" height="13.1" fill="#ef5350"/>
<path d="M127.42 132V155" stroke="#26a69a" stroke-width="0.8"/>
<rect x="126.17" y="138.5" width="2.5" height="16.1" fill="#26a69a"/>
<path d="M130.76 110.75V142" stroke="#26a69a" stroke-width="0.8"/>
<rect x="129.51" y="113.9" width="2.5" height="25.1" fill="#26a69a"/>
<path d="M134.1 85.1V127" stroke="#26a69a" stroke-width="0.8"/>
<rect x="132.85" y="91.4" width="2.5" height="22.5" fill="#26a69a"/>
<path d="M137.44 90V160.9" stroke="#ef5350" stroke-width="0.8"/>
<rect x="136.19" y="91.4" width="2.5" height="48.1" fill="#ef5350"/>
<path d="M140.78 110.75V142.75" stroke="#26a69a" stroke-width="0.8"/>
<rect x="139.53" y="123.25" width="2.5" height="16.25" fill="#26a69a"/>
<path d="M144.12 108.25V125.1" stroke="#26a69a" stroke-width="0.8"/>
<rect x="142.87" y="118.25" width="2.5" height="4.35" fill="#26a69a"/>
<path d="M147.46 115.1V135.1" stroke="#ef5350" stroke-width="0.8"/>
<rect x="146.21" y="118.25" width="2.5" height="6.25" fill="#ef5350"/>
<path d="M150.8 122V139" stroke="#ef5350" stroke-width="0.8"/>
<rect x="149.55" y="124.5" width="2.5" height="6.9" fill="#ef5350"/>
<path d="M154.14 130V161.5" stroke="#ef5350" stroke-width="0.8"/>
<rect x="152.89" y="132" width="2.5" height="5" fill="#ef5350"/>
<path d="M157.47 127.6V138" stroke="#26a69a" stroke-width="0.8"/>
<rect x="156.22" y="130.1" width="2.5" height="6.9" fill="#26a69a"/>
<path d="M160.81 128.5V138" stroke="#ef5350" stroke-width="0.8"/>
<rect x="159.56" y="130.1" width="2.5" height="6.3" fill="#ef5350"/>
<path d="M164.15 135V149.6" stroke="#ef5350" stroke-width="0.8"/>
<rect x="162.9" y="136.4" width="2.5" height="11.35" fill="#ef5350"/>
<path d="M167.49 142V160.25" stroke="#26a69a" stroke-width="0.8"/>
<rect x="166.24" y="144.6" width="2.5" height="3.15" fill="#26a69a"/>
<path d="M170.83 133.25V145.5" stroke="#26a69a" stroke-width="0.8"/>
<rect x="169.58" y="139.5" width="2.5" height="5.1" fill="#26a69a"/>
<path d="M174.17 127.6V141.5" stroke="#26a69a" stroke-width="0.8"/>
<rect x="172.92" y="132" width="2.5" height="7" fill="#26a69a"/>
<path d="M177.51 93.1V132" stroke="#26a69a" stroke-width="0.8"/>
<rect x="176.26" y="96.25" width="2.5" height="35.15" fill="#26a69a"/>
<path d="M180.85 76V108.25" stroke="#26a69a" stroke-width="0.8"/>
<rect x="179.6" y="77.5" width="2.5" height="18.75" fill="#26a69a"/>
<path d="M184.19 69.4V84.4" stroke="#26a69a" stroke-width="0.8"/>
<rect x="182.94" y="73.1" width="2.5" height="4.4" fill="#26a69a"/>
<path d="M187.53 66V76.9" stroke="#26a69a" stroke-width="0.8"/>
<rect x="186.28" y="71.8" width="2.5" height="1.4" fill="#26a69a"/>
<path d="M190.87 70V102.5" stroke="#ef5350" stroke-width="0.8"/>
<rect x="189.62" y="71.25" width="2.5" height="10" fill="#ef5350"/>
<path d="M194.2 80V93" stroke="#ef5350" stroke-width="0.8"/>
<rect x="192.95" y="81.25" width="2.5" height="10.65" fill="#ef5350"/>
<path d="M197.54 85.6V106.25" stroke="#ef5350" stroke-width="0.8"/>
<rect x="196.29" y="91.9" width="2.5" height="2.5" fill="#ef5350"/>
<path d="M200.88 90.6V101.9" stroke="#26a69a" stroke-width="0.8"/>
<rect x="199.63" y="93.05" width="2.5" height="1.4" fill="#26a69a"/>
<path d="M204.22 88.75V98.1" stroke="#ef5350" stroke-width="0.8"/>
<rect x="202.97" y="93.1" width="2.5" height="1.9" fill="#ef5350"/>
<path d="M207.56 93.1V99.4" stroke="#ef5350" stroke-width="0.8"/>
<rect x="206.31" y="95" width="2.5" height="1.9" fill="#ef5350"/>
<path d="M210.9 91.25V99.4" stroke="#ef5350" stroke-width="0.8"/>
<rect x="209.65" y="96.8" width="2.5" height="1.4" fill="#ef5350"/>
<path d="M214.24 94.4V111.6" stroke="#ef5350" stroke-width="0.8"/>
<rect x="212.99" y="98.1" width="2.5" height="5.9" fill="#ef5350"/>
<path d="M217.58 97.5V106.6" stroke="#26a69a" stroke-width="0.8"/>
<rect x="216.33" y="102.5" width="2.5" height="2" fill="#26a69a"/>
<path d="M220.92 88.75V105.4" stroke="#26a69a" stroke-width="0.8"/>
<rect x="219.67" y="101.6" width="2.5" height="1.4" fill="#26a69a"/>
<path d="M224.25 99V116.6" stroke="#ef5350" stroke-width="0.8"/>
<rect x="223" y="101.4" width="2.5" height="9" fill="#ef5350"/>
<path d="M227.59 109.5V132.25" stroke="#ef5350" stroke-width="0.8"/>
<rect x="226.34" y="110.4" width="2.5" height="11.85" fill="#ef5350"/>
<path d="M230.93 114.1V146.6" stroke="#ef5350" stroke-width="0.8"/>
<rect x="229.68" y="122.25" width="2.5" height="12.5" fill="#ef5350"/>
<path d="M234.27 129.1V146" stroke="#ef5350" stroke-width="0.8"/>
<rect x="233.02" y="134.75" width="2.5" height="1.85" fill="#ef5350"/>
<path d="M237.61 135.4V147.25" stroke="#ef5350" stroke-width="0.8"/>
<rect x="236.36" y="136.6" width="2.5" height="6.9" fill="#ef5350"/>
<path d="M240.95 127.9V146" stroke="#26a69a" stroke-width="0.8"/>
<rect x="239.7" y="129.75" width="2.5" height="13.15" fill="#26a69a"/>
<path d="M244.29 122.25V138.5" stroke="#ef5350" stroke-width="0.8"/>
<rect x="243.04" y="129.75" width="2.5" height="5" fill="#ef5350"/>
<path d="M247.63 134V151.4" stroke="#ef5350" stroke-width="0.8"/>
<rect x="246.38" y="134.75" width="2.5" height="13.85" fill="#ef5350"/>
<path d="M250.97 131V155.6" stroke="#26a69a" stroke-width="0.8"/>
<rect x="249.72" y="132.9" width="2.5" height="15.7" fill="#26a69a"/>
<path d="M254.31 120.4V168.75" stroke="#ef5350" stroke-width="0.8"/>
<rect x="253.06" y="132.9" width="2.5" height="19.6" fill="#ef5350"/>
<path d="M257.64 149.4V165.6" stroke="#ef5350" stroke-width="0.8"/>
<rect x="256.39" y="152.5" width="2.5" height="6.25" fill="#ef5350"/>
<path d="M260.98 148.1V161.25" stroke="#26a69a" stroke-width="0.8"/>
<rect x="259.73" y="151.25" width="2.5" height="7.5" fill="#26a69a"/>
<path d="M264.32 142.4V159.5" stroke="#ef5350" stroke-width="0.8"/>
<rect x="263.07" y="151.25" width="2.5" height="7.5" fill="#ef5350"/>
<path d="M267.66 152.5V169" stroke="#ef5350" stroke-width="0.8"/>
<rect x="266.41" y="158.75" width="2.5" height="9.35" fill="#ef5350"/>
<path d="M271 162.5V186.9" stroke="#ef5350" stroke-width="0.8"/>
<rect x="269.75" y="168.1" width="2.5" height="7.5" fill="#ef5350"/>
<path d="M274.34 161.25V180" stroke="#ef5350" stroke-width="0.8"/>
<rect x="273.09" y="175" width="2.5" height="3.75" fill="#ef5350"/>
<path d="M277.68 174.4V183.5" stroke="#ef5350" stroke-width="0.8"/>
<rect x="276.43" y="178.75" width="2.5" height="3.75" fill="#ef5350"/>
<path d="M281.02 169.4V183.5" stroke="#26a69a" stroke-width="0.8"/>
<rect x="279.77" y="173.1" width="2.5" height="9.4" fill="#26a69a"/>
<path d="M284.36 147V174.4" stroke="#26a69a" stroke-width="0.8"/>
<rect x="283.11" y="148.1" width="2.5" height="25" fill="#26a69a"/>
<path d="M287.7 143.1V153.75" stroke="#26a69a" stroke-width="0.8"/>
<rect x="286.45" y="146.2" width="2.5" height="1.4" fill="#26a69a"/>
<path d="M291.03 143.75V160" stroke="#ef5350" stroke-width="0.8"/>
<rect x="289.78" y="146.9" width="2.5" height="12.5" fill="#ef5350"/>
<path d="M294.37 158.5V170.5" stroke="#ef5350" stroke-width="0.8"/>
<rect x="293.12" y="159.4" width="2.5" height="10" fill="#ef5350"/>
<path d="M297.71 164.4V173" stroke="#ef5350" stroke-width="0.8"/>
<rect x="296.46" y="169.4" width="2.5" height="2.5" fill="#ef5350"/>
<path d="M301.05 171V186.9" stroke="#ef5350" stroke-width="0.8"/>
<rect x="299.8" y="171.9" width="2.5" height="10" fill="#ef5350"/>
<path d="M304.39 170V188" stroke="#ef5350" stroke-width="0.8"/>
<rect x="303.14" y="181.9" width="2.5" height="5.6" fill="#ef5350"/>
<path d="M307.73 186V238.75" stroke="#ef5350" stroke-width="0.8"/>
<rect x="306.48" y="186.9" width="2.5" height="18.7" fill="#ef5350"/>
<path d="M311.07 203.1V221.25" stroke="#ef5350" stroke-width="0.8"/>
<rect x="309.82" y="205.6" width="2.5" height="8.15" fill="#ef5350"/>
<path d="M314.41 211.25V230" stroke="#ef5350" stroke-width="0.8"/>
<rect x="313.16" y="213.75" width="2.5" height="10" fill="#ef5350"/>
<path d="M317.75 193.75V224.5" stroke="#26a69a" stroke-width="0.8"/>
<rect x="316.5" y="210" width="2.5" height="13.75" fill="#26a69a"/>
<path d="M321.09 196.25V223.5" stroke="#ef5350" stroke-width="0.8"/>
<rect x="319.84" y="210" width="2.5" height="12.5" fill="#ef5350"/>
<path d="M324.43 213.1V235" stroke="#ef5350" stroke-width="0.8"/>
<rect x="323.18" y="222.4" width="2.5" height="1.4" fill="#ef5350"/>
<path d="M327.76 216.25V228.1" stroke="#26a69a" stroke-width="0.8"/>
<rect x="326.51" y="222.2" width="2.5" height="1.4" fill="#26a69a"/>
<path d="M331.1 219.4V231.9" stroke="#ef5350" stroke-width="0.8"/>
<rect x="329.85" y="222.5" width="2.5" height="6.25" fill="#ef5350"/>
<path d="M334.44 221.9V230.6" stroke="#26a69a" stroke-width="0.8"/>
<rect x="333.19" y="227.4" width="2.5" height="1.4" fill="#26a69a"/>
<path d="M337.78 226.5V238.75" stroke="#ef5350" stroke-width="0.8"/>
<rect x="336.53" y="227.5" width="2.5" height="2.5" fill="#ef5350"/>
<path d="M341.12 213.1V231" stroke="#26a69a" stroke-width="0.8"/>
<rect x="339.87" y="218.75" width="2.5" height="11.25" fill="#26a69a"/>
<path d="M344.46 211.9V228.75" stroke="#26a69a" stroke-width="0.8"/>
<rect x="343.21" y="217.4" width="2.5" height="1.4" fill="#26a69a"/>
<path d="M347.8 215V222.5" stroke="#26a69a" stroke-width="0.8"/>
<rect x="346.55" y="216.25" width="2.5" height="1.85" fill="#26a69a"/>
<path d="M351.14 206.25V220" stroke="#26a69a" stroke-width="0.8"/>
<rect x="349.89" y="210" width="2.5" height="6.25" fill="#26a69a"/>
<path d="M354.48 208.1V232.5" stroke="#ef5350" stroke-width="0.8"/>
<rect x="353.23" y="209.4" width="2.5" height="18.1" fill="#ef5350"/>
<path d="M357.81 223.75V234.5" stroke="#ef5350" stroke-width="0.8"/>
<rect x="356.56" y="227.5" width="2.5" height="6.2" fill="#ef5350"/>
<path d="M361.15 219.4V234.5" stroke="#26a69a" stroke-width="0.8"/>
<rect x="359.9" y="220" width="2.5" height="13.7" fill="#26a69a"/>
<path d="M364.49 216.9V228.75" stroke="#26a69a" stroke-width="0.8"/>
<rect x="363.24" y="218.7" width="2.5" height="1.4" fill="#26a69a"/>
<path d="M367.83 217.5V231.5" stroke="#ef5350" stroke-width="0.8"/>
<rect x="366.58" y="218.75" width="2.5" height="11.75" fill="#ef5350"/>
<path d="M371.17 223.75V232.5" stroke="#ef5350" stroke-width="0.8"/>
<rect x="369.92" y="229.65" width="2.5" height="1.4" fill="#ef5350"/>
<path d="M374.51 226.9V236.5" stroke="#ef5350" stroke-width="0.8"/>
<rect x="373.26" y="230.5" width="2.5" height="5" fill="#ef5350"/>
<path d="M377.85 231.8V236.5" stroke="#26a69a" stroke-width="0.8"/>
<rect x="376.6" y="234.45" width="2.5" height="1.4" fill="#26a69a"/>
<path d="M381.19 234V251.1" stroke="#ef5350" stroke-width="0.8"/>
<rect x="379.94" y="234.7" width="2.5" height="12.05" fill="#ef5350"/>
<path d="M384.53 244.25V255.5" stroke="#ef5350" stroke-width="0.8"/>
<rect x="383.28" y="246.5" width="2.5" height="1.5" fill="#ef5350"/>
<path d="M387.87 231.5V249.9" stroke="#26a69a" stroke-width="0.8"/>
<rect x="386.62" y="238.6" width="2.5" height="9.4" fill="#26a69a"/>
<path d="M391.2 232.2V243.6" stroke="#ef5350" stroke-width="0.8"/>
<rect x="389.95" y="238.35" width="2.5" height="1.4" fill="#ef5350"/>
<path d="M394.54 236.75V261.1" stroke="#ef5350" stroke-width="0.8"/>
<rect x="393.29" y="239.25" width="2.5" height="16.85" fill="#ef5350"/>
<path d="M397.88 252.4V261.5" stroke="#ef5350" stroke-width="0.8"/>
<rect x="396.63" y="256.1" width="2.5" height="4.4" fill="#ef5350"/>
<path d="M401.22 258V265.5" stroke="#26a69a" stroke-width="0.8"/>
<rect x="399.97" y="259.55" width="2.5" height="1.4" fill="#26a69a"/>
<path d="M404.56 256.1V263.6" stroke="#26a69a" stroke-width="0.8"/>
<rect x="403.31" y="258" width="2.5" height="2.25" fill="#26a69a"/>
<path d="M407.9 256.1V262.5" stroke="#ef5350" stroke-width="0.8"/>
<rect x="406.65" y="257.75" width="2.5" height="4" fill="#ef5350"/>
<path d="M411.24 259.25V277.4" stroke="#ef5350" stroke-width="0.8"/>
<rect x="409.99" y="261.75" width="2.5" height="12.5" fill="#ef5350"/>
<path d="M414.58 273V280.5" stroke="#ef5350" stroke-width="0.8"/>
<rect x="413.33" y="274.25" width="2.5" height="2.25" fill="#ef5350"/>
<path d="M417.92 274.25V283" stroke="#ef5350" stroke-width="0.8"/>
<rect x="416.67" y="276.75" width="2.5" height="2.75" fill="#ef5350"/>
<path d="M421.26 264V280.5" stroke="#26a69a" stroke-width="0.8"/>
<rect x="420.01" y="264.9" width="2.5" height="14.35" fill="#26a69a"/>
<path d="M424.59 246.75V265.5" stroke="#26a69a" stroke-width="0.8"/>
<rect x="423.34" y="250.5" width="2.5" height="14.4" fill="#26a69a"/>
<path d="M427.93 242.4V257.4" stroke="#26a69a" stroke-width="0.8"/>
<rect x="426.68" y="245.25" width="2.5" height="5.25" fill="#26a69a"/>
<path d="M431.27 239.9V251.1" stroke="#26a69a" stroke-width="0.8"/>
<rect x="430.02" y="240.25" width="2.5" height="5" fill="#26a69a"/>
<path d="M434.61 236.75V246.75" stroke="#ef5350" stroke-width="0.8"/>
<rect x="433.36" y="239.8" width="2.5" height="1.4" fill="#ef5350"/>
<path d="M437.95 238.6V249.9" stroke="#ef5350" stroke-width="0.8"/>
<rect x="436.7" y="241.1" width="2.5" height="6.3" fill="#ef5350"/>
<path d="M441.29 235.5V251.75" stroke="#26a69a" stroke-width="0.8"/>
<rect x="440.04" y="240.25" width="2.5" height="7.15" fill="#26a69a"/>
<path d="M444.63 238V250.5" stroke="#ef5350" stroke-width="0.8"/>
<rect x="443.38" y="240.25" width="2.5" height="6.25" fill="#ef5350"/>
<path d="M447.97 245.5V258" stroke="#ef5350" stroke-width="0.8"/>
<rect x="446.72" y="246.5" width="2.5" height="7.75" fill="#ef5350"/>
<path d="M451.31 253V264.25" stroke="#ef5350" stroke-width="0.8"/>
<rect x="450.06" y="254.25" width="2.5" height="1.5" fill="#ef5350"/>
<path d="M454.65 247.4V259.25" stroke="#26a69a" stroke-width="0.8"/>
<rect x="453.4" y="252.75" width="2.5" height="3" fill="#26a69a"/>
<path d="M457.99 243V255.5" stroke="#26a69a" stroke-width="0.8"/>
<rect x="456.74" y="250.25" width="2.5" height="2.15" fill="#26a69a"/>
<path d="M461.32 238V253.6" stroke="#26a69a" stroke-width="0.8"/>
<rect x="460.07" y="244.25" width="2.5" height="5.65" fill="#26a69a"/>
<path d="M464.66 239.25V246.75" stroke="#26a69a" stroke-width="0.8"/>
<rect x="463.41" y="242.2" width="2.5" height="2.05" fill="#26a69a"/>
<path d="M468 226.5V242.5" stroke="#26a69a" stroke-width="0.8"/>
<rect x="466.75" y="229.25" width="2.5" height="12.75" fill="#26a69a"/>
<path d="M471.34 228V244.25" stroke="#ef5350" stroke-width="0.8"/>
<rect x="470.09" y="229.25" width="2.5" height="12.75" fill="#ef5350"/>
<path d="M474.68 236V244.6" stroke="#26a69a" stroke-width="0.8"/>
<rect x="473.43" y="240.6" width="2.5" height="1.4" fill="#26a69a"/>
<path d="M478.02 239.9V245.5" stroke="#ef5350" stroke-width="0.8"/>
<rect x="476.77" y="240.8" width="2.5" height="4" fill="#ef5350"/>
<path d="M481.36 243.75V251.25" stroke="#ef5350" stroke-width="0.8"/>
<rect x="480.11" y="244.35" width="2.5" height="1.4" fill="#ef5350"/>
<path d="M484.7 245V249.5" stroke="#ef5350" stroke-width="0.8"/>
<rect x="483.45" y="245.6" width="2.5" height="3.15" fill="#ef5350"/>
<path d="M488.04 243V250" stroke="#26a69a" stroke-width="0.8"/>
<rect x="486.79" y="243.75" width="2.5" height="5" fill="#26a69a"/>
<path d="M491.38 242.5V246.9" stroke="#ef5350" stroke-width="0.8"/>
<rect x="490.12" y="243.35" width="2.5" height="1.4" fill="#ef5350"/>
<path d="M494.71 244V290" stroke="#ef5350" stroke-width="0.8"/>
<rect x="493.46" y="245" width="2.5" height="27.25" fill="#ef5350"/>
<path d="M498.05 266.9V278.75" stroke="#ef5350" stroke-width="0.8"/>
<rect x="496.8" y="272.25" width="2.5" height="3.75" fill="#ef5350"/>
<path d="M501.39 263.1V278.5" stroke="#26a69a" stroke-width="0.8"/>
<rect x="500.14" y="266.9" width="2.5" height="8.7" fill="#26a69a"/>
<path d="M504.73 264.4V275.6" stroke="#ef5350" stroke-width="0.8"/>
<rect x="503.48" y="264.95" width="2.5" height="1.4" fill="#ef5350"/>
<path d="M508.07 263.75V271.25" stroke="#ef5350" stroke-width="0.8"/>
<rect x="506.82" y="266.25" width="2.5" height="2.5" fill="#ef5350"/>
<path d="M511.41 244V270.6" stroke="#26a69a" stroke-width="0.8"/>
<rect x="510.16" y="260.6" width="2.5" height="7.9" fill="#26a69a"/>
<path d="M514.75 255.6V263.75" stroke="#26a69a" stroke-width="0.8"/>
<rect x="513.5" y="259.35" width="2.5" height="1.4" fill="#26a69a"/>
<path d="M518.09 258.1V263.75" stroke="#ef5350" stroke-width="0.8"/>
<rect x="516.84" y="258.45" width="2.5" height="1.4" fill="#ef5350"/>
<path d="M521.43 258.75V267" stroke="#ef5350" stroke-width="0.8"/>
<rect x="520.18" y="259.75" width="2.5" height="6.5" fill="#ef5350"/>
<path d="M524.76 263.1V269.4" stroke="#ef5350" stroke-width="0.8"/>
<rect x="523.51" y="266.25" width="2.5" height="1.4" fill="#ef5350"/>
<path d="M528.1 265.6V283.1" stroke="#ef5350" stroke-width="0.8"/>
<rect x="526.85" y="267.25" width="2.5" height="5.25" fill="#ef5350"/>
<path d="M531.44 272V279.4" stroke="#ef5350" stroke-width="0.8"/>
<rect x="530.19" y="272.9" width="2.5" height="2.35" fill="#ef5350"/>
<path d="M534.78 270V279.4" stroke="#ef5350" stroke-width="0.8"/>
<rect x="533.53" y="275" width="2.5" height="2.5" fill="#ef5350"/>
<path d="M538.12 275.6V281.9" stroke="#ef5350" stroke-width="0.8"/>
<rect x="536.87" y="277.5" width="2.5" height="2.25" fill="#ef5350"/>
<path d="M541.46 277.5V284" stroke="#ef5350" stroke-width="0.8"/>
<rect x="540.21" y="279.05" width="2.5" height="1.4" fill="#ef5350"/>
<path d="M544.8 276.9V283" stroke="#ef5350" stroke-width="0.8"/>
<rect x="543.55" y="280.6" width="2.5" height="1.65" fill="#ef5350"/>
<path d="M548.14 273.75V282.5" stroke="#26a69a" stroke-width="0.8"/>
<rect x="546.89" y="274.75" width="2.5" height="7.15" fill="#26a69a"/>
<path d="M551.48 273.1V278.5" stroke="#ef5350" stroke-width="0.8"/>
<rect x="550.23" y="274.4" width="2.5" height="3.1" fill="#ef5350"/>
<path d="M554.82 276.5V281.5" stroke="#ef5350" stroke-width="0.8"/>
<rect x="553.57" y="277.5" width="2.5" height="3.1" fill="#ef5350"/>
<path d="M558.15 274V283.1" stroke="#26a69a" stroke-width="0.8"/>
<rect x="556.9" y="275" width="2.5" height="5.4" fill="#26a69a"/>
<path d="M561.49 264.4V276" stroke="#26a69a" stroke-width="0.8"/>
<rect x="560.24" y="265.4" width="2.5" height="9.6" fill="#26a69a"/>
<path d="M564.83 251V266" stroke="#26a69a" stroke-width="0.8"/>
<rect x="563.58" y="253.5" width="2.5" height="11.9" fill="#26a69a"/>
<path d="M568.17 240.6V255" stroke="#26a69a" stroke-width="0.8"/>
<rect x="566.92" y="243.5" width="2.5" height="10" fill="#26a69a"/>
<path d="M571.51 238.1V253.75" stroke="#26a69a" stroke-width="0.8"/>
<rect x="570.26" y="242.8" width="2.5" height="1.4" fill="#26a69a"/>
<path d="M574.85 240V249.4" stroke="#26a69a" stroke-width="0.8"/>
<rect x="573.6" y="242.05" width="2.5" height="1.4" fill="#26a69a"/>
<path d="M578.19 239.4V246.25" stroke="#26a69a" stroke-width="0.8"/>
<rect x="576.94" y="240.6" width="2.5" height="2.15" fill="#26a69a"/>
<path d="M581.53 198.75V241.5" stroke="#26a69a" stroke-width="0.8"/>
<rect x="580.28" y="206.25" width="2.5" height="34.35" fill="#26a69a"/>
<path d="M584.87 195V218.1" stroke="#ef5350" stroke-width="0.8"/>
<rect x="583.62" y="206" width="2.5" height="2.1" fill="#ef5350"/>
<path d="M588.21 198.75V213.1" stroke="#26a69a" stroke-width="0.8"/>
<rect x="586.96" y="206.2" width="2.5" height="1.4" fill="#26a69a"/>
<path d="M591.54 195V210.6" stroke="#26a69a" stroke-width="0.8"/>
<rect x="590.29" y="205.55" width="2.5" height="1.4" fill="#26a69a"/>
<path d="M594.88 200.6V223" stroke="#ef5350" stroke-width="0.8"/>
<rect x="593.63" y="206.25" width="2.5" height="15.65" fill="#ef5350"/>
<path d="M598.22 203.1V226.9" stroke="#26a69a" stroke-width="0.8"/>
<rect x="596.97" y="216.9" width="2.5" height="5" fill="#26a69a"/>
<path d="M601.56 213.1V225" stroke="#ef5350" stroke-width="0.8"/>
<rect x="600.31" y="216.9" width="2.5" height="2.85" fill="#ef5350"/>
<path d="M604.9 219V229.4" stroke="#ef5350" stroke-width="0.8"/>
<rect x="603.65" y="220" width="2.5" height="2.5" fill="#ef5350"/>
<path d="M608.24 215V223.1" stroke="#26a69a" stroke-width="0.8"/>
<rect x="606.99" y="220.55" width="2.5" height="1.4" fill="#26a69a"/>
<path d="M611.58 210.6V225" stroke="#26a69a" stroke-width="0.8"/>
<rect x="610.33" y="214" width="2.5" height="7.9" fill="#26a69a"/>
<path d="M614.92 200V215" stroke="#26a69a" stroke-width="0.8"/>
<rect x="613.67" y="202.9" width="2.5" height="10.85" fill="#26a69a"/>
<path d="M618.26 200V209.4" stroke="#ef5350" stroke-width="0.8"/>
<rect x="617.01" y="202.9" width="2.5" height="4" fill="#ef5350"/>
<path d="M621.6 185V208.75" stroke="#26a69a" stroke-width="0.8"/>
<rect x="620.35" y="188.75" width="2.5" height="18.15" fill="#26a69a"/>
<path d="M624.93 181.25V209.4" stroke="#ef5350" stroke-width="0.8"/>
<rect x="623.68" y="188.75" width="2.5" height="1.85" fill="#ef5350"/>
<path d="M628.27 179V200.6" stroke="#ef5350" stroke-width="0.8"/>
<rect x="627.02" y="190" width="2.5" height="4.75" fill="#ef5350"/>
<path d="M631.61 192.5V208.75" stroke="#ef5350" stroke-width="0.8"/>
<rect x="630.36" y="194.75" width="2.5" height="4" fill="#ef5350"/>
<path d="M634.95 194.4V200.6" stroke="#26a69a" stroke-width="0.8"/>
<rect x="633.7" y="197.8" width="2.5" height="1.4" fill="#26a69a"/>
<path d="M638.29 197.5V210.6" stroke="#ef5350" stroke-width="0.8"/>
<rect x="637.04" y="198.5" width="2.5" height="8.4" fill="#ef5350"/>
<path d="M641.63 202.25V239.4" stroke="#ef5350" stroke-width="0.8"/>
<rect x="640.38" y="206.9" width="2.5" height="20" fill="#ef5350"/>
<path d="M644.97 218.75V234.4" stroke="#26a69a" stroke-width="0.8"/>
<rect x="643.72" y="221" width="2.5" height="5.9" fill="#26a69a"/>
<path d="M648.31 217.4V230.3" stroke="#ef5350" stroke-width="0.8"/>
<rect x="647.06" y="221" width="2.5" height="6.5" fill="#ef5350"/>
<path d="M651.65 225.6V235.6" stroke="#ef5350" stroke-width="0.8"/>
<rect x="650.4" y="226.55" width="2.5" height="1.4" fill="#ef5350"/>
<path d="M654.99 225V233" stroke="#ef5350" stroke-width="0.8"/>
<rect x="653.74" y="228.1" width="2.5" height="3.9" fill="#ef5350"/>
<path d="M658.33 222.5V234.2" stroke="#26a69a" stroke-width="0.8"/>
<rect x="657.08" y="226.9" width="2.5" height="5" fill="#26a69a"/>
<path d="M661.66 218.75V230.3" stroke="#ef5350" stroke-width="0.8"/>
<rect x="660.41" y="226.9" width="2.5" height="1.85" fill="#ef5350"/>
<path d="M665 225.3V231.3" stroke="#ef5350" stroke-width="0.8"/>
<rect x="663.75" y="228.5" width="2.5" height="1.9" fill="#ef5350"/>
<path d="M668.34 222.5V234.4" stroke="#ef5350" stroke-width="0.8"/>
<rect x="667.09" y="229.35" width="2.5" height="1.4" fill="#ef5350"/>
<path d="M671.68 229.5V239.4" stroke="#ef5350" stroke-width="0.8"/>
<rect x="670.43" y="230.6" width="2.5" height="5.4" fill="#ef5350"/>
<path d="M675.02 235V248.75" stroke="#ef5350" stroke-width="0.8"/>
<rect x="673.77" y="236" width="2.5" height="7.75" fill="#ef5350"/>
<path d="M678.36 238.1V248.1" stroke="#26a69a" stroke-width="0.8"/>
<rect x="677.11" y="241.5" width="2.5" height="2.25" fill="#26a69a"/>
<path d="M681.7 235V259.4" stroke="#ef5350" stroke-width="0.8"/>
<rect x="680.45" y="241.5" width="2.5" height="10" fill="#ef5350"/>
<path d="M685.04 230.6V255.6" stroke="#26a69a" stroke-width="0.8"/>
<rect x="683.79" y="233.5" width="2.5" height="18" fill="#26a69a"/>
<path d="M688.38 228.75V236.25" stroke="#26a69a" stroke-width="0.8"/>
<rect x="687.13" y="230.25" width="2.5" height="2.25" fill="#26a69a"/>
<path d="M691.72 228.1V243.1" stroke="#ef5350" stroke-width="0.8"/>
<rect x="690.47" y="230" width="2.5" height="8.1" fill="#ef5350"/>
<path d="M695.05 234.4V254.4" stroke="#ef5350" stroke-width="0.8"/>
<rect x="693.8" y="238.1" width="2.5" height="14.15" fill="#ef5350"/>
<path d="M698.39 249.4V270.6" stroke="#ef5350" stroke-width="0.8"/>
<rect x="697.14" y="252.5" width="2.5" height="3.75" fill="#ef5350"/>
<path d="M701.73 252.5V258.1" stroke="#26a69a" stroke-width="0.8"/>
<rect x="700.48" y="254.85" width="2.5" height="1.4" fill="#26a69a"/>
<path d="M705.07 239.4V256.25" stroke="#26a69a" stroke-width="0.8"/>
<rect x="703.82" y="243.1" width="2.5" height="11.9" fill="#26a69a"/>
<path d="M708.41 242V256.9" stroke="#ef5350" stroke-width="0.8"/>
<rect x="707.16" y="243.1" width="2.5" height="12.5" fill="#ef5350"/>
<path d="M711.75 253.1V262.5" stroke="#26a69a" stroke-width="0.8"/>
<rect x="710.5" y="254.05" width="2.5" height="1.4" fill="#26a69a"/>
<path d="M715.09 247.5V255.6" stroke="#ef5350" stroke-width="0.8"/>
<rect x="713.84" y="252.45" width="2.5" height="1.4" fill="#ef5350"/>
<path d="M718.43 248.1V256.9" stroke="#26a69a" stroke-width="0.8"/>
<rect x="717.18" y="251" width="2.5" height="2.1" fill="#26a69a"/>
<path d="M721.77 236.9V251.5" stroke="#26a69a" stroke-width="0.8"/>
<rect x="720.52" y="240.6" width="2.5" height="10" fill="#26a69a"/>
<path d="M725.11 239V255.6" stroke="#ef5350" stroke-width="0.8"/>
<rect x="723.86" y="240" width="2.5" height="9" fill="#ef5350"/>
<path d="M728.44 246.9V255.6" stroke="#ef5350" stroke-width="0.8"/>
<rect x="727.19" y="249" width="2.5" height="2.5" fill="#ef5350"/>
<path d="M731.78 246.25V253.1" stroke="#26a69a" stroke-width="0.8"/>
<rect x="730.53" y="247.75" width="2.5" height="3.5" fill="#26a69a"/>
<path d="M735.12 245.6V259.75" stroke="#ef5350" stroke-width="0.8"/>
<rect x="733.87" y="247.75" width="2.5" height="6" fill="#ef5350"/>
<path d="M738.46 248.1V256.9" stroke="#ef5350" stroke-width="0.8"/>
<rect x="737.21" y="253.75" width="2.5" height="2.25" fill="#ef5350"/>
<path d="M741.8 197.5V258.1" stroke="#26a69a" stroke-width="0.8"/>
<rect x="740.55" y="206.9" width="2.5" height="48.1" fill="#26a69a"/>
<path d="M745.14 178.75V217.5" stroke="#26a69a" stroke-width="0.8"/>
<rect x="743.89" y="191.9" width="2.5" height="14.35" fill="#26a69a"/>
<path d="M748.48 149.4V192.5" stroke="#26a69a" stroke-width="0.8"/>
<rect x="747.23" y="160" width="2.5" height="31.5" fill="#26a69a"/>
<path d="M751.82 148.75V172.5" stroke="#26a69a" stroke-width="0.8"/>
<rect x="750.57" y="150" width="2.5" height="9.75" fill="#26a69a"/>
<path d="M755.16 138.1V156.9" stroke="#26a69a" stroke-width="0.8"/>
<rect x="753.91" y="147.25" width="2.5" height="2.5" fill="#26a69a"/>
<path d="M758.5 146V170" stroke="#ef5350" stroke-width="0.8"/>
<rect x="757.25" y="146.9" width="2.5" height="6.85" fill="#ef5350"/>
<path d="M761.83 152.25V184.4" stroke="#ef5350" stroke-width="0.8"/>
<rect x="760.58" y="153.75" width="2.5" height="18.5" fill="#ef5350"/>
<path d="M765.17 166.25V176" stroke="#ef5350" stroke-width="0.8"/>
<rect x="763.92" y="172.5" width="2.5" height="2.5" fill="#ef5350"/>
<path d="M768.51 152.5V177.5" stroke="#26a69a" stroke-width="0.8"/>
<rect x="767.26" y="154.75" width="2.5" height="19.65" fill="#26a69a"/>
<path d="M771.85 150V171.9" stroke="#ef5350" stroke-width="0.8"/>
<rect x="770.6" y="154.75" width="2.5" height="9.65" fill="#ef5350"/>
<path d="M775.19 148.75V173.1" stroke="#26a69a" stroke-width="0.8"/>
<rect x="773.94" y="162.75" width="2.5" height="2" fill="#26a69a"/>
<path d="M778.53 153.75V166.5" stroke="#ef5350" stroke-width="0.8"/>
<rect x="777.28" y="162.75" width="2.5" height="2.85" fill="#ef5350"/>
<path d="M781.87 163.1V185.6" stroke="#ef5350" stroke-width="0.8"/>
<rect x="780.62" y="165.6" width="2.5" height="14.7" fill="#ef5350"/>
<path d="M785.21 177.5V219.4" stroke="#ef5350" stroke-width="0.8"/>
<rect x="783.96" y="180" width="2.5" height="14.4" fill="#ef5350"/>
<path d="M788.55 178.1V196.9" stroke="#26a69a" stroke-width="0.8"/>
<rect x="787.3" y="182.5" width="2.5" height="11.9" fill="#26a69a"/>
<path d="M791.88 177.5V187.5" stroke="#ef5350" stroke-width="0.8"/>
<rect x="790.63" y="182.5" width="2.5" height="1.5" fill="#ef5350"/>
<path d="M795.22 150V207.5" stroke="#26a69a" stroke-width="0.8"/>
<rect x="793.97" y="151.25" width="2.5" height="32.5" fill="#26a69a"/>
<path d="M798.56 148.5V190.6" stroke="#ef5350" stroke-width="0.8"/>
<rect x="797.31" y="151.25" width="2.5" height="38.5" fill="#ef5350"/>
<path d="M801.9 184.4V198.75" stroke="#ef5350" stroke-width="0.8"/>
<rect x="800.65" y="189.75" width="2.5" height="1.75" fill="#ef5350"/>
<path d="M805.24 185.6V194.4" stroke="#26a69a" stroke-width="0.8"/>
<rect x="803.99" y="190.55" width="2.5" height="1.4" fill="#26a69a"/>
<path d="M808.58 184.4V198.1" stroke="#ef5350" stroke-width="0.8"/>
<rect x="807.33" y="191" width="2.5" height="5.9" fill="#ef5350"/>
<path d="M811.92 191.25V210.6" stroke="#ef5350" stroke-width="0.8"/>
<rect x="810.67" y="196.9" width="2.5" height="11.85" fill="#ef5350"/>
<path d="M815.26 196.25V218.75" stroke="#26a69a" stroke-width="0.8"/>
<rect x="814.01" y="200.6" width="2.5" height="8.15" fill="#26a69a"/>
<path d="M818.6 198.1V205.6" stroke="#ef5350" stroke-width="0.8"/>
<rect x="817.35" y="200" width="2.5" height="2.5" fill="#ef5350"/>
<path d="M821.94 187.5V203.5" stroke="#26a69a" stroke-width="0.8"/>
<rect x="820.69" y="192.25" width="2.5" height="10.25" fill="#26a69a"/>
<path d="M825.27 189.4V196.9" stroke="#ef5350" stroke-width="0.8"/>
<rect x="824.02" y="192.25" width="2.5" height="3.35" fill="#ef5350"/>
<path d="M828.61 176.25V199.4" stroke="#26a69a" stroke-width="0.8"/>
<rect x="827.36" y="180.6" width="2.5" height="15" fill="#26a69a"/>
<path d="M831.95 174.4V190" stroke="#ef5350" stroke-width="0.8"/>
<rect x="830.7" y="180" width="2.5" height="5.6" fill="#ef5350"/>
<path d="M835.29 176.9V190.6" stroke="#26a69a" stroke-width="0.8"/>
<rect x="834.04" y="184.3" width="2.5" height="1.4" fill="#26a69a"/>
<path d="M838.63 183.1V198.1" stroke="#ef5350" stroke-width="0.8"/>
<rect x="837.38" y="185" width="2.5" height="8.75" fill="#ef5350"/>
<path d="M841.97 190.6V202.5" stroke="#ef5350" stroke-width="0.8"/>
<rect x="840.72" y="193.75" width="2.5" height="1.85" fill="#ef5350"/>
<path d="M845.31 189.4V203.1" stroke="#ef5350" stroke-width="0.8"/>
<rect x="844.06" y="195.6" width="2.5" height="5" fill="#ef5350"/>
<path d="M848.65 199.5V218.75" stroke="#ef5350" stroke-width="0.8"/>
<rect x="847.4" y="200.6" width="2.5" height="13.15" fill="#ef5350"/>
<path d="M851.99 206.25V215.6" stroke="#26a69a" stroke-width="0.8"/>
<rect x="850.74" y="208.75" width="2.5" height="5" fill="#26a69a"/>
<path d="M855.33 203.1V214.75" stroke="#26a69a" stroke-width="0.8"/>
<rect x="854.08" y="207.43" width="2.5" height="1.4" fill="#26a69a"/>
<path d="M858.66 206.2V209.4" stroke="#ef5350" stroke-width="0.8"/>
<rect x="857.41" y="207.5" width="2.5" height="1.8" fill="#ef5350"/>
</g>
<g clip-path="url(#cr)" fill="none" stroke-linejoin="round">
<path d="M67.91 375.7L67.91 375.7L72 371L76.7 368.1L80.6 371.3L83.7 371.7L87.6 367.8L92.3 366.3L97 366L101.7 371.3L106.4 372.2L111 371.7L115.8 371.7L120.5 371L124.06 375.7L124.06 375.7Z" fill="url(#gg)" stroke="none"/>
<path d="M126.51 375.7L126.51 375.7L130 371.7L133.8 369.4L135.9 375.7L135.9 375.7Z" fill="url(#gg)" stroke="none"/>
<path d="M178.18 375.7L178.18 375.7L182 373.4L187.5 373.25L189.64 375.7L189.64 375.7Z" fill="url(#gg)" stroke="none"/>
<path d="M578.99 375.7L578.99 375.7L582 370.6L584.4 371.4L591.4 371.7L593.4 375.7L593.4 375.7Z" fill="url(#gg)" stroke="none"/>
<path d="M614.32 375.7L614.32 375.7L614.8 375.3L615.85 375.7L615.85 375.7Z" fill="url(#gg)" stroke="none"/>
<path d="M619.77 375.7L619.77 375.7L621.9 373.4L625 373.7L627.58 375.7L627.58 375.7Z" fill="url(#gg)" stroke="none"/>
<path d="M743.44 375.7L743.44 375.7L745.4 374.3L749.3 370.6L754 369.3L757 370.6L759.7 374.5L760.57 375.7L760.57 375.7Z" fill="url(#gg)" stroke="none"/>
<path d="M7 374.9L15.6 376.4L31.3 379.6L47 381.9L54.8 381.9L67.3 378.8L78.2 375.6L93.9 372.2L109.5 370.6L125.2 370.2L133 370.6L140.8 372.5L150 374.5L157.8 376.8L165.6 378.9L173.4 380.4L180.5 381.5L187.5 380L196.9 379.5L212.5 378.9L221.9 378.9L228.1 381.5L237.5 385.1L246.9 387L259.4 390.1L268.75 392.5L278.1 393.7L285.9 392.9L295.3 392.5L303.1 393.25L309.4 394L318.75 394.5L328.1 394.8L337.5 396.7L343.75 397.5L353.1 397.2L362.5 396.1L371.9 395.1L381.25 394.8L390.6 394.8L400 395.3L409.4 396.4L418.75 397.9L425 397.2L434.4 395.1L443.75 392.9L453.1 391.4L459.4 389.8L468.75 387.3L481.25 387L496.9 387.3L509.4 388.6L521.9 390.4L534.4 392L546.9 392.5L559.4 392.5L568.75 390.1L578.1 386.2L587.5 380.75L593.75 378.4L603.1 376.8L609.4 376.1L621.9 375.3L634.4 377.2L646.9 379.2L659.4 382L668.75 385.1L678.1 388.6L684.4 390.1L696.9 390.6L709.4 391.7L721.9 390.9L731.25 390.1L739.1 390.1L746.9 386.5L752.5 383.4L758.75 380.4L765 379.2L774.4 377.2L783.75 376.1L793.1 377.6L802.5 380.75L811.9 383.1L821.25 385.1L830.6 385.4L840 386.2L849.4 387L859.1 387.5" stroke="#fbe24c" stroke-width="0.9"/>
<path d="M7 378.5L9.4 379.6L14 385L17.2 384.3L20.3 385.8L24.3 383.5L27.4 384.3L30.5 382.7L33.6 383.2L36.8 381.9L40 384.7L43 383.2L47 384.3L50 380.3L54 378.8L60 377.6L67.3 376.4L72 371L76.7 368.1L80.6 371.3L83.7 371.7L87.6 367.8L92.3 366.3L97 366L101.7 371.3L106.4 372.2L111 371.7L115.8 371.7L120.5 371L125.2 377.2L130 371.7L133.8 369.4L137.7 381.1L141.6 378.8L145.5 378L150 381.5L153.9 382.6L157 381.8L160.2 382.6L164 385.4L169.5 384.2L174.2 382.3L178.1 375.75L182 373.4L187.5 373.25L190.6 376.8L194.5 380L202.3 380.4L209.4 381.5L214 383.9L221 383.1L225 386.7L230.5 392L237.5 394.5L240.6 390.1L243.75 390.9L247.7 394.3L251.25 389.3L253.9 392.9L257 394.3L260.9 392L264.8 394L270.3 396L276.6 397.6L280.5 394L284.4 387.3L288.3 387.3L292.2 390.4L296.1 392.5L300.8 393.7L303.9 396.4L307.8 398.7L313.3 400.3L317.2 396.7L321.1 398.4L328.1 398.4L331.25 399.2L337.5 398.7L340.6 395.6L346.9 394.5L350.5 392.2L353.9 395.6L357.8 396.7L361.7 392.2L364.8 392.5L368 394.5L371.9 394.8L376.6 395.6L381.25 397.6L384.4 397.9L387.5 394.8L390.6 394.5L395.3 397.9L400 399.5L404.7 398.25L407.8 398.7L412.5 401.1L417.2 402.3L419.5 399.5L421.9 394L425 389.8L430.5 386.2L434.4 387L438.3 388.6L441.4 386.2L445.3 388.6L449.2 390.9L454.7 389.3L460.9 386.2L464.8 385.1L468 381.5L471.1 385.4L475 385.4L478.9 387L484.4 388.1L487.5 386.2L491.4 386.7L495.3 394.8L498.4 396.1L501.6 392.2L507.8 392.5L511.7 389.3L517.2 388.9L521.9 391.2L525 391.2L528.9 393.7L534.4 395.1L539.1 396.4L544.5 396.8L548.4 391.4L551.6 392.9L554.7 394.3L558.6 390.4L562.5 383.9L565.6 379.5L568.75 377.3L578.1 377.2L582 370.6L584.4 371.4L591.4 371.7L594.5 377.9L599.2 378.4L603.9 380.4L608.6 380.4L611.7 377.9L614.8 375.3L618.75 376.8L621.9 373.4L625 373.7L628.1 376.1L632 377.9L635.9 378.4L641.4 388.6L645.3 387L650 388.9L654.7 390.4L658.6 388.25L663.3 389.3L668 389.7L671.9 391.7L675.8 394.5L678.9 392.9L681.7 396.1L685.2 387.3L688.3 386.5L691.4 388.6L695.3 392.9L698.4 394.3L702.3 392.9L705.5 388.9L708.6 392.2L712.5 392L717.2 390.9L721.9 386.2L725 388.9L728.1 389.8L732 388.25L735.2 390.1L738.3 390.1L741.9 376.8L745.4 374.3L749.3 370.6L754 369.3L757 370.6L759.7 374.5L763.1 379.2L768.1 376.4L772 378.9L777.5 379.2L781.4 383.1L785.8 386.7L789.2 384.3L792.3 384.7L795.8 378.4L799.4 386.2L805.6 386.2L809.5 387.8L812.7 389.7L816.6 387.3L818.9 387.8L822 385.75L825.2 386.2L829.1 383.4L832.2 384.3L835.3 384.7L839.2 386.2L843.1 387.3L846.25 388.9L849.4 390.9L852.5 389.7L859.1 389.3" stroke="#7e57c2" stroke-width="0.9"/>
</g>
<rect x="7" y="18.3" width="1010.2" height="411" fill="none" stroke="#f4f5f7" stroke-width="0.8"/>
<path d="M7 365.5H1017.2" stroke="#e3e6ec" stroke-width="0.9"/>
<path d="M978 18.3V429.3" stroke="#c0c0c3" stroke-width="1.3"/>
<path d="M7 409.4H1017.2" stroke="#747578" stroke-width="0.9"/>
<text x="984.1" y="58.61" font-size="7.9" fill="#3a3e49" textLength="22.9" lengthAdjust="spacingAndGlyphs" transform="rotate(0.03 984.1 58.61)">3.5000</text>
<text x="984.1" y="80.62" font-size="7.9" fill="#3a3e49" textLength="22.9" lengthAdjust="spacingAndGlyphs" transform="rotate(0.03 984.1 80.62)">2.7000</text>
<text x="984.1" y="101.94" font-size="7.9" fill="#3a3e49" textLength="22.9" lengthAdjust="spacingAndGlyphs" transform="rotate(0.03 984.1 101.94)">2.1000</text>
<text x="984.1" y="130.49" font-size="7.9" fill="#3a3e49" textLength="22.9" lengthAdjust="spacingAndGlyphs" transform="rotate(0.03 984.1 130.49)">1.5000</text>
<text x="984.1" y="156.8" font-size="7.9" fill="#3a3e49" textLength="22.9" lengthAdjust="spacingAndGlyphs" transform="rotate(0.03 984.1 156.8)">1.1000</text>
<text x="984.1" y="183.82" font-size="7.9" fill="#3a3e49" textLength="22.9" lengthAdjust="spacingAndGlyphs" transform="rotate(0.03 984.1 183.82)">0.8000</text>
<text x="984.1" y="208.23" font-size="7.9" fill="#3a3e49" textLength="22.9" lengthAdjust="spacingAndGlyphs" transform="rotate(0.03 984.1 208.23)">0.6000</text>
<text x="984.1" y="232.64" font-size="7.9" fill="#3a3e49" textLength="22.9" lengthAdjust="spacingAndGlyphs" transform="rotate(0.03 984.1 232.64)">0.4500</text>
<text x="984.1" y="253.96" font-size="7.9" fill="#3a3e49" textLength="22.9" lengthAdjust="spacingAndGlyphs" transform="rotate(0.03 984.1 253.96)">0.3500</text>
<text x="984.1" y="275.97" font-size="7.9" fill="#3a3e49" textLength="22.9" lengthAdjust="spacingAndGlyphs" transform="rotate(0.03 984.1 275.97)">0.2700</text>
<text x="984.1" y="297.3" font-size="7.9" fill="#3a3e49" textLength="22.9" lengthAdjust="spacingAndGlyphs" transform="rotate(0.03 984.1 297.3)">0.2100</text>
<text x="984.1" y="320.37" font-size="7.9" fill="#3a3e49" textLength="22.9" lengthAdjust="spacingAndGlyphs" transform="rotate(0.03 984.1 320.37)">0.1600</text>
<text x="984.1" y="341.31" font-size="7.9" fill="#3a3e49" textLength="22.9" lengthAdjust="spacingAndGlyphs" transform="rotate(0.03 984.1 341.31)">0.1250</text>
<text x="984.1" y="361.09" font-size="7.9" fill="#3a3e49" textLength="22.9" lengthAdjust="spacingAndGlyphs" transform="rotate(0.03 984.1 361.09)">0.0990</text>
<text x="983.9" y="374.2" font-size="7.9" fill="#3a3e49" textLength="19" lengthAdjust="spacingAndGlyphs" transform="rotate(0.03 983.9 374.2)">80.00</text>
<text x="983.9" y="395.3" font-size="7.9" fill="#3a3e49" textLength="19" lengthAdjust="spacingAndGlyphs" transform="rotate(0.03 983.9 395.3)">40.00</text>
<rect x="980.7" y="21.8" width="33.5" height="17.2" rx="2" fill="#fff" stroke="#f1f2f5" stroke-width="0.8"/>
<text x="987.2" y="33.4" font-size="8.5" fill="#1c1f2a" stroke="#1c1f2a" stroke-width="0.25" textLength="19.2" lengthAdjust="spacingAndGlyphs" transform="rotate(0.03 987.2 33.4)">USDT</text>
<rect x="978.2" y="203.7" width="31.9" height="20" rx="1.5" fill="#ef5350"/>
<rect x="940.1" y="203.7" width="38.8" height="10.9" rx="1.5" fill="#ef5350"/>
<rect x="977.3" y="203.7" width="1.4" height="20" fill="#c94a48"/>
<text x="943.2" y="211.8" font-size="7.5" fill="#fff" stroke="#fff" stroke-width="0.15" textLength="30.8" lengthAdjust="spacingAndGlyphs" transform="rotate(0.03 943.2 211.8)">ADAUSDT</text>
<text x="984.1" y="211.8" font-size="7.6" fill="#fff" stroke="#fff" stroke-width="0.15" textLength="22.9" lengthAdjust="spacingAndGlyphs" transform="rotate(0.03 984.1 211.8)">0.5730</text>
<text x="984.1" y="220.9" font-size="7.6" fill="#fff" stroke="#fff" stroke-width="0.1" textLength="22.9" lengthAdjust="spacingAndGlyphs" transform="rotate(0.03 984.1 220.9)">5d 17h</text>
<text x="65.2" y="421.9" font-size="7.6" fill="#3c404b" textLength="17.6" lengthAdjust="spacingAndGlyphs" font-weight="bold" transform="rotate(0.03 65.2 421.9)">2021</text>
<text x="156.11" y="421.9" font-size="7.8" fill="#454955" textLength="9.4" lengthAdjust="spacingAndGlyphs" transform="rotate(0.03 156.11 421.9)">Jul</text>
<text x="238.83" y="421.9" font-size="7.6" fill="#3c404b" textLength="17.6" lengthAdjust="spacingAndGlyphs" font-weight="bold" transform="rotate(0.03 238.83 421.9)">2022</text>
<text x="329.74" y="421.9" font-size="7.8" fill="#454955" textLength="9.4" lengthAdjust="spacingAndGlyphs" transform="rotate(0.03 329.74 421.9)">Jul</text>
<text x="412.46" y="421.9" font-size="7.6" fill="#3c404b" textLength="17.6" lengthAdjust="spacingAndGlyphs" font-weight="bold" transform="rotate(0.03 412.46 421.9)">2023</text>
<text x="503.37" y="421.9" font-size="7.8" fill="#454955" textLength="9.4" lengthAdjust="spacingAndGlyphs" transform="rotate(0.03 503.37 421.9)">Jul</text>
<text x="586.08" y="421.9" font-size="7.6" fill="#3c404b" textLength="17.6" lengthAdjust="spacingAndGlyphs" font-weight="bold" transform="rotate(0.03 586.08 421.9)">2024</text>
<text x="677" y="421.9" font-size="7.8" fill="#454955" textLength="9.4" lengthAdjust="spacingAndGlyphs" transform="rotate(0.03 677 421.9)">Jul</text>
<text x="763.05" y="421.9" font-size="7.6" fill="#3c404b" textLength="17.6" lengthAdjust="spacingAndGlyphs" font-weight="bold" transform="rotate(0.03 763.05 421.9)">2025</text>
<text x="853.96" y="421.9" font-size="7.8" fill="#454955" textLength="9.4" lengthAdjust="spacingAndGlyphs" transform="rotate(0.03 853.96 421.9)">Jul</text>
<text x="936.68" y="421.9" font-size="7.6" fill="#3c404b" textLength="17.6" lengthAdjust="spacingAndGlyphs" font-weight="bold" transform="rotate(0.03 936.68 421.9)">2026</text>
<text x="7.6" y="13.75" font-size="8.4" fill="#1c1f2a" stroke="#1c1f2a" stroke-width="0.2" textLength="54.6" lengthAdjust="spacingAndGlyphs" transform="rotate(0.03 7.6 13.75)">Jake_Simmons</text>
<text x="65.2" y="13.75" font-size="8.4" fill="#1c1f2a" stroke="#1c1f2a" stroke-width="0.2" textLength="28.5" lengthAdjust="spacingAndGlyphs" transform="rotate(0.03 65.2 13.75)">created</text>
<text x="97.2" y="13.75" font-size="8.4" fill="#1c1f2a" stroke="#1c1f2a" stroke-width="0.2" textLength="15.8" lengthAdjust="spacingAndGlyphs" transform="rotate(0.03 97.2 13.75)">with</text>
<text x="116.3" y="13.75" font-size="8.4" fill="#1c1f2a" stroke="#1c1f2a" stroke-width="0.2" textLength="65.9" lengthAdjust="spacingAndGlyphs" transform="rotate(0.03 116.3 13.75)">TradingView.com,</text>
<text x="187.2" y="13.75" font-size="8.4" fill="#1c1f2a" stroke="#1c1f2a" stroke-width="0.2" textLength="9.7" lengthAdjust="spacingAndGlyphs" transform="rotate(0.03 187.2 13.75)">Jul</text>
<text x="200.2" y="13.75" font-size="8.4" fill="#1c1f2a" stroke="#1c1f2a" stroke-width="0.2" textLength="10.2" lengthAdjust="spacingAndGlyphs" transform="rotate(0.03 200.2 13.75)">08,</text>
<text x="214.7" y="13.75" font-size="8.4" fill="#1c1f2a" stroke="#1c1f2a" stroke-width="0.2" textLength="17.4" lengthAdjust="spacingAndGlyphs" transform="rotate(0.03 214.7 13.75)">2025</text>
<text x="235.5" y="13.75" font-size="8.4" fill="#1c1f2a" stroke="#1c1f2a" stroke-width="0.2" textLength="18.5" lengthAdjust="spacingAndGlyphs" transform="rotate(0.03 235.5 13.75)">03:17</text>
<text x="258.1" y="13.75" font-size="8.4" fill="#1c1f2a" stroke="#1c1f2a" stroke-width="0.2" textLength="22.8" lengthAdjust="spacingAndGlyphs" transform="rotate(0.03 258.1 13.75)">UTC-4</text>
<text x="12.8" y="32.7" font-size="8.5" fill="#474b55" stroke="#474b55" stroke-width="0.1" textLength="31.1" lengthAdjust="spacingAndGlyphs" transform="rotate(0.03 12.8 32.7)">Cardano</text>
<text x="47.5" y="32.7" font-size="8.5" fill="#474b55" stroke="#474b55" stroke-width="0.1" textLength="2.8" lengthAdjust="spacingAndGlyphs" transform="rotate(0.03 47.5 32.7)">/</text>
<text x="54.2" y="32.7" font-size="8.5" fill="#474b55" stroke="#474b55" stroke-width="0.1" textLength="33.6" lengthAdjust="spacingAndGlyphs" transform="rotate(0.03 54.2 32.7)">TetherUS</text>
<rect x="90.55" y="29.6" width="1.1" height="1.1" fill="#474b55"/>
<text x="96.3" y="32.7" font-size="8.5" fill="#474b55" stroke="#474b55" stroke-width="0.1" textLength="11.6" lengthAdjust="spacingAndGlyphs" transform="rotate(0.03 96.3 32.7)">1W</text>
<rect x="111.45" y="29.6" width="1.1" height="1.1" fill="#474b55"/>
<text x="116.1" y="32.7" font-size="8.5" fill="#474b55" stroke="#474b55" stroke-width="0.1" textLength="31.7" lengthAdjust="spacingAndGlyphs" transform="rotate(0.03 116.1 32.7)">BINANCE</text>
<text x="153.8" y="32.7" font-size="8.5" fill="#474b55" stroke="#474b55" stroke-width="0.1" textLength="5.2" lengthAdjust="spacingAndGlyphs" transform="rotate(0.03 153.8 32.7)">O</text>
<text x="190.2" y="32.7" font-size="8.5" fill="#474b55" stroke="#474b55" stroke-width="0.1" textLength="4.9" lengthAdjust="spacingAndGlyphs" transform="rotate(0.03 190.2 32.7)">H</text>
<text x="226.5" y="32.7" font-size="8.5" fill="#474b55" stroke="#474b55" stroke-width="0.1" textLength="3.7" lengthAdjust="spacingAndGlyphs" transform="rotate(0.03 226.5 32.7)">L</text>
<text x="261" y="32.7" font-size="8.5" fill="#474b55" stroke="#474b55" stroke-width="0.1" textLength="4" lengthAdjust="spacingAndGlyphs" transform="rotate(0.03 261 32.7)">C</text>
<text x="159.3" y="32.7" font-size="8.5" fill="#ef4750" textLength="25.2" lengthAdjust="spacingAndGlyphs" transform="rotate(0.03 159.3 32.7)">0.5858</text>
<text x="195.7" y="32.7" font-size="8.5" fill="#ef4750" textLength="24.9" lengthAdjust="spacingAndGlyphs" transform="rotate(0.03 195.7 32.7)">0.5947</text>
<text x="230.5" y="32.7" font-size="8.5" fill="#ef4750" textLength="24.9" lengthAdjust="spacingAndGlyphs" transform="rotate(0.03 230.5 32.7)">0.5722</text>
<text x="265.5" y="32.7" font-size="8.5" fill="#ef4750" textLength="25.7" lengthAdjust="spacingAndGlyphs" transform="rotate(0.03 265.5 32.7)">0.5730</text>
<text x="297" y="32.7" font-size="8.5" fill="#ef4750" textLength="29.4" lengthAdjust="spacingAndGlyphs" transform="rotate(0.03 297 32.7)">−0.0128</text>
<text x="330.1" y="32.7" font-size="8.5" fill="#ef4750" textLength="31.4" lengthAdjust="spacingAndGlyphs" transform="rotate(0.03 330.1 32.7)">(−2.19%)</text>
<text x="12.9" y="44.55" font-size="8.5" fill="#474b55" stroke="#474b55" stroke-width="0.1" textLength="10.4" lengthAdjust="spacingAndGlyphs" transform="rotate(0.03 12.9 44.55)">Vol</text>
<rect x="26.85" y="41.45" width="1.1" height="1.1" fill="#474b55"/>
<text x="32.2" y="44.55" font-size="8.5" fill="#474b55" stroke="#474b55" stroke-width="0.1" textLength="15" lengthAdjust="spacingAndGlyphs" transform="rotate(0.03 32.2 44.55)">ADA</text>
<text x="53.4" y="44.55" font-size="8.5" fill="#ef4750" textLength="23.7" lengthAdjust="spacingAndGlyphs" transform="rotate(0.03 53.4 44.55)">106.92</text>
<text x="79.7" y="44.55" font-size="8.5" fill="#ef4750" textLength="6.4" lengthAdjust="spacingAndGlyphs" transform="rotate(0.03 79.7 44.55)">M</text>
<text x="12.9" y="56.2" font-size="8.5" fill="#474b55" stroke="#474b55" stroke-width="0.1" textLength="15.3" lengthAdjust="spacingAndGlyphs" transform="rotate(0.03 12.9 56.2)">EMA</text>
<text x="30.6" y="56.2" font-size="8.5" fill="#474b55" stroke="#474b55" stroke-width="0.1" textLength="58.6" lengthAdjust="spacingAndGlyphs" transform="rotate(0.03 30.6 56.2)">20/50/100/200</text>
<text x="94.1" y="56.2" font-size="8.5" fill="#ff1a1a" stroke="#ff1a1a" stroke-width="0.3" textLength="25" lengthAdjust="spacingAndGlyphs" transform="rotate(0.03 94.1 56.2)">0.6695</text>
<text x="124.9" y="56.2" font-size="8.5" fill="#ff9800" stroke="#ff9800" stroke-width="0.3" textLength="25.2" lengthAdjust="spacingAndGlyphs" transform="rotate(0.03 124.9 56.2)">0.6590</text>
<text x="155.2" y="56.2" font-size="8.5" fill="#0cefff" stroke="#0cefff" stroke-width="0.3" textLength="25.2" lengthAdjust="spacingAndGlyphs" transform="rotate(0.03 155.2 56.2)">0.6134</text>
<text x="186.1" y="56.2" font-size="8.5" fill="#1d1df2" stroke="#1d1df2" stroke-width="0.3" textLength="24.8" lengthAdjust="spacingAndGlyphs" transform="rotate(0.03 186.1 56.2)">0.5444</text>
<text x="13.1" y="378.9" font-size="8.5" fill="#474b55" stroke="#474b55" stroke-width="0.1" textLength="10.2" lengthAdjust="spacingAndGlyphs" transform="rotate(0.03 13.1 378.9)">RSI</text>
<text x="27.3" y="378.9" font-size="8.5" fill="#474b55" stroke="#474b55" stroke-width="0.1" textLength="12.6" lengthAdjust="spacingAndGlyphs" transform="rotate(0.03 27.3 378.9)">(14,</text>
<text x="45.3" y="378.9" font-size="8.5" fill="#474b55" stroke="#474b55" stroke-width="0.1" textLength="20.5" lengthAdjust="spacingAndGlyphs" transform="rotate(0.03 45.3 378.9)">close)</text>
<text x="73.6" y="378.9" font-size="8.5" fill="#7e57c2" stroke="#7e57c2" stroke-width="0.25" textLength="19.3" lengthAdjust="spacingAndGlyphs" transform="rotate(0.03 73.6 378.9)">43.74</text>
<text x="98.7" y="378.9" font-size="8.5" fill="#fdd835" stroke="#fdd835" stroke-width="0.3" textLength="20.3" lengthAdjust="spacingAndGlyphs" transform="rotate(0.03 98.7 378.9)">47.26</text>
<g stroke="#3a3e49" stroke-width="0.8" fill="none"><circle cx="128.05" cy="376.1" r="2.8"/><path d="M124.95 379.6L131.15 372.6"/></g>
<g stroke="#3a3e49" stroke-width="0.8" fill="none"><circle cx="141.5" cy="376.1" r="2.8"/><path d="M138.4 379.6L144.6 372.6"/></g>
<g transform="translate(7.1,435.9) scale(0.378)" fill="#0b0c10" stroke="#0b0c10" stroke-width="0.4"><path d="M14 22H7V11H0V4h14v18z"/><circle cx="20" cy="8" r="4"/><path d="M28 22h-8l7.5-18h8L28 22z"/></g>
<text x="23.5" y="445" font-size="9.3" fill="#101218" stroke="#101218" stroke-width="0.2" textLength="49.2" lengthAdjust="spacingAndGlyphs" transform="rotate(0.03 23.5 445)">TradingView</text>
</svg></body></html>
